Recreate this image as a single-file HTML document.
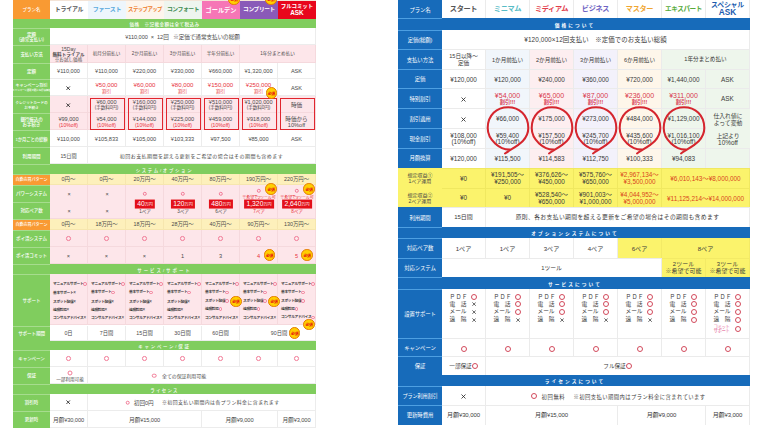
<!DOCTYPE html>
<html><head><meta charset="utf-8"><style>
html,body{margin:0;padding:0;background:#fff;}
body{width:760px;height:428px;overflow:hidden;position:relative;font-family:'Liberation Sans','Noto Sans CJK JP',sans-serif;}
.c{position:absolute;box-sizing:border-box;display:flex;align-items:center;justify-content:center;overflow:visible;white-space:nowrap;}
.a{position:absolute;white-space:nowrap;}
.b{position:absolute;box-sizing:border-box;border-radius:50%;background:#ffcf00;border:1.8px solid #e57a00;display:flex;align-items:center;justify-content:center;}
.b span{color:#e60012;font-size:3.9px;font-weight:bold;white-space:nowrap;letter-spacing:-0.3px;}
.ro{display:inline-block;width:5.5px;height:5.5px;border:0.8px solid #d24a5a;border-radius:50%;vertical-align:middle;margin-left:1px;box-sizing:border-box}
</style></head><body>
<div class="c" style="left:13px;top:0px;width:37px;height:428px;background:#80cd5e;"></div>
<div class="c" style="left:13px;top:0px;width:37px;height:18.6px;background:#f99a33;color:#fff;font-size:4.50px;line-height:4.7px;text-align:center;font-weight:500;letter-spacing:-0.05px;padding-top:2.2px;"><div>プラン名</div></div>
<div class="c" style="left:13px;top:28.3px;width:37px;height:16.900000000000002px;background:#80cd5e;color:#fff;font-size:4.50px;line-height:4.7px;text-align:center;font-weight:500;letter-spacing:-0.05px;padding-top:2.2px;"><div>定額<br>(通常支払い)</div></div>
<div class="c" style="left:13px;top:45.2px;width:37px;height:17.4px;background:#80cd5e;color:#fff;font-size:4.50px;line-height:4.7px;text-align:center;font-weight:500;letter-spacing:-0.05px;padding-top:2.2px;"><div>支払い方法</div></div>
<div class="c" style="left:13px;top:62.6px;width:37px;height:16.800000000000004px;background:#80cd5e;color:#fff;font-size:4.50px;line-height:4.7px;text-align:center;font-weight:500;letter-spacing:-0.05px;padding-top:2.2px;"><div>定額</div></div>
<div class="c" style="left:13px;top:79.4px;width:37px;height:16.599999999999994px;background:#80cd5e;color:#fff;font-size:4.06px;line-height:4.7px;text-align:center;font-weight:500;letter-spacing:-0.05px;padding-top:2.2px;"><div>キャンペーン割引<br><span style="font-size:2.5px;letter-spacing:-0.1px">キャンペーン適用で更にお得な価格</span></div></div>
<div class="c" style="left:13px;top:96px;width:37px;height:17.299999999999997px;background:#80cd5e;color:#fff;font-size:3.61px;line-height:4.7px;text-align:center;font-weight:500;letter-spacing:-0.05px;padding-top:2.2px;"><div>クレジットカードの<br>お手続き</div></div>
<div class="c" style="left:13px;top:113.3px;width:37px;height:17.000000000000014px;background:#80cd5e;color:#fff;font-size:4.50px;line-height:4.7px;text-align:center;font-weight:500;letter-spacing:-0.05px;padding-top:2.2px;"><div>銀行振込の<br>お手続き</div></div>
<div class="c" style="left:13px;top:130.3px;width:37px;height:17.0px;background:#80cd5e;color:#fff;font-size:4.30px;line-height:4.7px;text-align:center;font-weight:500;letter-spacing:-0.05px;padding-top:2.2px;"><div>1か月ごとの総額</div></div>
<div class="c" style="left:13px;top:147.3px;width:37px;height:17.0px;background:#80cd5e;color:#fff;font-size:4.50px;line-height:4.7px;text-align:center;font-weight:500;letter-spacing:-0.05px;padding-top:2.2px;"><div>利用期間</div></div>
<div class="c" style="left:13px;top:174px;width:37px;height:11.300000000000011px;background:#f99a33;color:#fff;font-size:4.06px;line-height:4.7px;text-align:center;font-weight:500;letter-spacing:-0.05px;padding-top:2.2px;"><div>自動売買パターン</div></div>
<div class="c" style="left:13px;top:185.3px;width:37px;height:16.69999999999999px;background:#80cd5e;color:#fff;font-size:4.50px;line-height:4.7px;text-align:center;font-weight:500;letter-spacing:-0.05px;padding-top:2.2px;"><div>パワーシステム</div></div>
<div class="c" style="left:13px;top:202px;width:37px;height:17px;background:#80cd5e;color:#fff;font-size:4.50px;line-height:4.7px;text-align:center;font-weight:500;letter-spacing:-0.05px;padding-top:2.2px;"><div>対応ペア数</div></div>
<div class="c" style="left:13px;top:219px;width:37px;height:11px;background:#f99a33;color:#fff;font-size:4.06px;line-height:4.7px;text-align:center;font-weight:500;letter-spacing:-0.05px;padding-top:2.2px;"><div>自動売買パターン</div></div>
<div class="c" style="left:13px;top:230px;width:37px;height:17px;background:#80cd5e;color:#fff;font-size:4.50px;line-height:4.7px;text-align:center;font-weight:500;letter-spacing:-0.05px;padding-top:2.2px;"><div>ポイ活システム</div></div>
<div class="c" style="left:13px;top:247px;width:37px;height:17px;background:#80cd5e;color:#fff;font-size:4.50px;line-height:4.7px;text-align:center;font-weight:500;letter-spacing:-0.05px;padding-top:2.2px;"><div>ポイ活コミット</div></div>
<div class="c" style="left:13px;top:274.2px;width:37px;height:51.30000000000001px;background:#80cd5e;color:#fff;font-size:4.50px;line-height:4.7px;text-align:center;font-weight:500;letter-spacing:-0.05px;padding-top:2.2px;"><div>サポート</div></div>
<div class="c" style="left:13px;top:325.5px;width:37px;height:15.0px;background:#80cd5e;color:#fff;font-size:4.50px;line-height:4.7px;text-align:center;font-weight:500;letter-spacing:-0.05px;padding-top:2.2px;"><div>サポート期間</div></div>
<div class="c" style="left:13px;top:350.4px;width:37px;height:16.600000000000023px;background:#80cd5e;color:#fff;font-size:4.50px;line-height:4.7px;text-align:center;font-weight:500;letter-spacing:-0.05px;padding-top:2.2px;"><div>キャンペーン</div></div>
<div class="c" style="left:13px;top:367px;width:37px;height:17.100000000000023px;background:#80cd5e;color:#fff;font-size:4.50px;line-height:4.7px;text-align:center;font-weight:500;letter-spacing:-0.05px;padding-top:2.2px;"><div>保証</div></div>
<div class="c" style="left:13px;top:393.9px;width:37px;height:17.100000000000023px;background:#80cd5e;color:#fff;font-size:4.50px;line-height:4.7px;text-align:center;font-weight:500;letter-spacing:-0.05px;padding-top:2.2px;"><div>割引時</div></div>
<div class="c" style="left:13px;top:411px;width:37px;height:17px;background:#80cd5e;color:#fff;font-size:4.50px;line-height:4.7px;text-align:center;font-weight:500;letter-spacing:-0.05px;padding-top:2.2px;"><div>更新時</div></div>
<div class="a" style="left:13px;top:18.6px;width:37px;height:0.8000000000000007px;background:#a6dc8e"></div>
<div class="a" style="left:13px;top:28.3px;width:37px;height:0.8000000000000007px;background:#a6dc8e"></div>
<div class="a" style="left:13px;top:45.2px;width:37px;height:0.7999999999999972px;background:#a6dc8e"></div>
<div class="a" style="left:13px;top:62.6px;width:37px;height:0.7999999999999972px;background:#a6dc8e"></div>
<div class="a" style="left:13px;top:79.4px;width:37px;height:0.7999999999999972px;background:#a6dc8e"></div>
<div class="a" style="left:13px;top:96px;width:37px;height:0.7999999999999972px;background:#a6dc8e"></div>
<div class="a" style="left:13px;top:113.3px;width:37px;height:0.7999999999999972px;background:#a6dc8e"></div>
<div class="a" style="left:13px;top:130.3px;width:37px;height:0.8000000000000114px;background:#a6dc8e"></div>
<div class="a" style="left:13px;top:147.3px;width:37px;height:0.8000000000000114px;background:#a6dc8e"></div>
<div class="a" style="left:13px;top:164.3px;width:37px;height:0.8000000000000114px;background:#a6dc8e"></div>
<div class="a" style="left:13px;top:174px;width:37px;height:0.8000000000000114px;background:#a6dc8e"></div>
<div class="a" style="left:13px;top:185.3px;width:37px;height:0.8000000000000114px;background:#a6dc8e"></div>
<div class="a" style="left:13px;top:202px;width:37px;height:0.8000000000000114px;background:#a6dc8e"></div>
<div class="a" style="left:13px;top:219px;width:37px;height:0.8000000000000114px;background:#a6dc8e"></div>
<div class="a" style="left:13px;top:230px;width:37px;height:0.8000000000000114px;background:#a6dc8e"></div>
<div class="a" style="left:13px;top:247px;width:37px;height:0.8000000000000114px;background:#a6dc8e"></div>
<div class="a" style="left:13px;top:264px;width:37px;height:0.8000000000000114px;background:#a6dc8e"></div>
<div class="a" style="left:13px;top:274.2px;width:37px;height:0.8000000000000114px;background:#a6dc8e"></div>
<div class="a" style="left:13px;top:325.5px;width:37px;height:0.8000000000000114px;background:#a6dc8e"></div>
<div class="a" style="left:13px;top:340.5px;width:37px;height:0.8000000000000114px;background:#a6dc8e"></div>
<div class="a" style="left:13px;top:350.4px;width:37px;height:0.8000000000000114px;background:#a6dc8e"></div>
<div class="a" style="left:13px;top:367px;width:37px;height:0.8000000000000114px;background:#a6dc8e"></div>
<div class="a" style="left:13px;top:384.1px;width:37px;height:0.8000000000000114px;background:#a6dc8e"></div>
<div class="a" style="left:13px;top:393.9px;width:37px;height:0.8000000000000114px;background:#a6dc8e"></div>
<div class="a" style="left:13px;top:411px;width:37px;height:0.8000000000000114px;background:#a6dc8e"></div>
<div class="c" style="left:50px;top:18.6px;width:266px;height:1.0px;background:#80cd5e;"></div>
<div class="c" style="left:13px;top:19.400000000000002px;width:303px;height:8.899999999999999px;background:#80cd5e;color:#fff;font-size:4.4px;font-weight:500;padding-top:0.4px;"><div><span style="letter-spacing:0.4px;font-size:4.6px">価格　※記載金額は全て税込み</span></div></div>
<div class="c" style="left:50px;top:164.3px;width:266px;height:1.0px;background:#80cd5e;"></div>
<div class="c" style="left:13px;top:165.10000000000002px;width:303px;height:8.899999999999977px;background:#80cd5e;color:#fff;font-size:4.4px;font-weight:500;padding-top:0.4px;"><div><span style="letter-spacing:1.7px">システム/オプション</span></div></div>
<div class="c" style="left:50px;top:264px;width:266px;height:1px;background:#80cd5e;"></div>
<div class="c" style="left:13px;top:264.8px;width:303px;height:9.399999999999977px;background:#80cd5e;color:#fff;font-size:4.4px;font-weight:500;padding-top:0.4px;"><div><span style="letter-spacing:2px">サービス/サポート</span></div></div>
<div class="c" style="left:50px;top:340.5px;width:266px;height:1.0px;background:#80cd5e;"></div>
<div class="c" style="left:13px;top:341.3px;width:303px;height:9.099999999999966px;background:#80cd5e;color:#fff;font-size:4.4px;font-weight:500;padding-top:0.4px;"><div><span style="letter-spacing:1.8px">キャンペーン/保証</span></div></div>
<div class="c" style="left:50px;top:384.1px;width:266px;height:1.0px;background:#80cd5e;"></div>
<div class="c" style="left:13px;top:384.90000000000003px;width:303px;height:8.999999999999943px;background:#80cd5e;color:#fff;font-size:4.4px;font-weight:500;padding-top:0.4px;"><div><span style="letter-spacing:1.3px">ライセンス</span></div></div>
<div class="a" style="left:50px;top:0px;width:266px;height:1px;background:#f3e3d6"></div>
<div class="c" style="left:50px;top:1px;width:38px;height:17.6px;background:#ffffff;color:#595959;font-weight:bold;font-size:6px;line-height:7px;letter-spacing:-0.25px;text-align:center;"><div>トライアル</div></div>
<div class="c" style="left:88px;top:1px;width:38px;height:17.6px;background:#eef6fc;color:#5aaade;font-weight:bold;font-size:6px;line-height:7px;letter-spacing:-0.25px;text-align:center;"><div>ファースト</div></div>
<div class="c" style="left:126px;top:1px;width:38px;height:17.6px;background:#fdf5ec;color:#ee7d2c;font-weight:bold;font-size:5.4px;line-height:7px;letter-spacing:-0.55px;text-align:center;"><div>ステップアップ</div></div>
<div class="c" style="left:164px;top:1px;width:38px;height:17.6px;background:#eef5ef;color:#3f8c52;font-weight:bold;font-size:5.8px;line-height:7px;letter-spacing:-0.4px;text-align:center;"><div>コンフォート</div></div>
<div class="c" style="left:202px;top:1px;width:38px;height:17.6px;background:#f676b6;color:#fff;font-weight:bold;font-size:6.2px;line-height:7px;letter-spacing:0px;text-align:center;"><div>ゴールデン</div></div>
<div class="c" style="left:240px;top:1px;width:38px;height:17.6px;background:#8a5ab8;color:#fff;font-weight:bold;font-size:5.7px;line-height:7px;letter-spacing:-0.35px;text-align:center;"><div>コンプリート</div></div>
<div class="c" style="left:278px;top:1px;width:38px;height:17.6px;background:#e8061c;color:#fff;font-weight:bold;font-size:5.5px;line-height:6.6px;letter-spacing:-0.1px;text-align:center;"><div>フルコミット<br><span style="font-size:6.4px;letter-spacing:0">ASK</span></div></div>
<div class="c" style="left:50px;top:28.3px;width:266px;height:16.900000000000002px;background:#ffffff;color:#4a4a4a;font-size:5.6px;line-height:6px;text-align:center;border-right:1px solid #ececec;border-bottom:1px solid #ececec;padding-top:1.2px;font-size:5.6px;letter-spacing:-0.05px"><div>¥110,000 &nbsp;×&nbsp; 12回 &nbsp; ※定価で通常支払いの総額</div></div>
<div class="c" style="left:50px;top:45.2px;width:38px;height:17.4px;background:#fde6ea;color:#4a4a4a;font-size:5.6px;line-height:6px;text-align:center;border-right:1px solid #f5d9dd;border-bottom:1px solid #f5d9dd;padding-top:1.2px;font-size:4.6px"><div><div style="line-height:5px;font-size:4.6px;padding-top:1px"><span style="font-size:5px">15Day</span><br><b>無料トライアル</b><br>※お試し価格</div></div></div>
<div class="c" style="left:88px;top:45.2px;width:38px;height:17.4px;background:#fde6ea;color:#4a4a4a;font-size:5.6px;line-height:6px;text-align:center;border-right:1px solid #f5d9dd;border-bottom:1px solid #f5d9dd;padding-top:1.2px;font-size:4.6px"><div>初月分前払い</div></div>
<div class="c" style="left:126px;top:45.2px;width:38px;height:17.4px;background:#fde6ea;color:#4a4a4a;font-size:5.6px;line-height:6px;text-align:center;border-right:1px solid #f5d9dd;border-bottom:1px solid #f5d9dd;padding-top:1.2px;font-size:4.6px"><div>2か月前払い</div></div>
<div class="c" style="left:164px;top:45.2px;width:38px;height:17.4px;background:#fde6ea;color:#4a4a4a;font-size:5.6px;line-height:6px;text-align:center;border-right:1px solid #f5d9dd;border-bottom:1px solid #f5d9dd;padding-top:1.2px;font-size:4.6px"><div>3か月前払い</div></div>
<div class="c" style="left:202px;top:45.2px;width:38px;height:17.4px;background:#fde6ea;color:#4a4a4a;font-size:5.6px;line-height:6px;text-align:center;border-right:1px solid #f5d9dd;border-bottom:1px solid #f5d9dd;padding-top:1.2px;font-size:4.6px"><div>半年分前払い</div></div>
<div class="c" style="left:240px;top:45.2px;width:76px;height:17.4px;background:#fde6ea;color:#4a4a4a;font-size:5.6px;line-height:6px;text-align:center;border-right:1px solid #f5d9dd;border-bottom:1px solid #f5d9dd;padding-top:1.2px;font-size:4.6px"><div>1年分まとめ払い</div></div>
<div class="c" style="left:50px;top:62.6px;width:38px;height:16.800000000000004px;background:#ffffff;color:#4a4a4a;font-size:5.6px;line-height:6px;text-align:center;border-right:1px solid #ececec;border-bottom:1px solid #ececec;padding-top:1.2px;"><div>¥110,000</div></div>
<div class="c" style="left:88px;top:62.6px;width:38px;height:16.800000000000004px;background:#ffffff;color:#4a4a4a;font-size:5.6px;line-height:6px;text-align:center;border-right:1px solid #ececec;border-bottom:1px solid #ececec;padding-top:1.2px;"><div>¥110,000</div></div>
<div class="c" style="left:126px;top:62.6px;width:38px;height:16.800000000000004px;background:#ffffff;color:#4a4a4a;font-size:5.6px;line-height:6px;text-align:center;border-right:1px solid #ececec;border-bottom:1px solid #ececec;padding-top:1.2px;"><div>¥220,000</div></div>
<div class="c" style="left:164px;top:62.6px;width:38px;height:16.800000000000004px;background:#ffffff;color:#4a4a4a;font-size:5.6px;line-height:6px;text-align:center;border-right:1px solid #ececec;border-bottom:1px solid #ececec;padding-top:1.2px;"><div>¥330,000</div></div>
<div class="c" style="left:202px;top:62.6px;width:38px;height:16.800000000000004px;background:#ffffff;color:#4a4a4a;font-size:5.6px;line-height:6px;text-align:center;border-right:1px solid #ececec;border-bottom:1px solid #ececec;padding-top:1.2px;"><div>¥660,000</div></div>
<div class="c" style="left:240px;top:62.6px;width:38px;height:16.800000000000004px;background:#ffffff;color:#4a4a4a;font-size:5.6px;line-height:6px;text-align:center;border-right:1px solid #ececec;border-bottom:1px solid #ececec;padding-top:1.2px;"><div>¥1,320,000</div></div>
<div class="c" style="left:278px;top:62.6px;width:38px;height:16.800000000000004px;background:#ffffff;color:#4a4a4a;font-size:5.6px;line-height:6px;text-align:center;border-right:1px solid #ececec;border-bottom:1px solid #ececec;padding-top:1.2px;"><div>ASK</div></div>
<div class="c" style="left:50px;top:79.4px;width:38px;height:16.599999999999994px;background:#ffffff;color:#4a4a4a;font-size:5.6px;line-height:6px;text-align:center;border-right:1px solid #ececec;border-bottom:1px solid #ececec;padding-top:1.2px;line-height:5.3px;padding-top:2.4px"><div><svg width="4.4" height="4.4" viewBox="0 0 10 10" style="vertical-align:middle;display:inline-block"><path d="M1 1L9 9M9 1L1 9" stroke="#222" stroke-width="1.9318181818181817" fill="none"/></svg></div></div>
<div class="c" style="left:88px;top:79.4px;width:38px;height:16.599999999999994px;background:#ffffff;color:#4a4a4a;font-size:5.6px;line-height:6px;text-align:center;border-right:1px solid #ececec;border-bottom:1px solid #ececec;padding-top:1.2px;line-height:5.3px;padding-top:2.4px"><div><span style="color:#e8333d;font-size:6.1px">¥50,000<br><span style="font-size:4.6px">割引</span></span></div></div>
<div class="c" style="left:126px;top:79.4px;width:38px;height:16.599999999999994px;background:#ffffff;color:#4a4a4a;font-size:5.6px;line-height:6px;text-align:center;border-right:1px solid #ececec;border-bottom:1px solid #ececec;padding-top:1.2px;line-height:5.3px;padding-top:2.4px"><div><span style="color:#e8333d;font-size:6.1px">¥60,000<br><span style="font-size:4.6px">割引</span></span></div></div>
<div class="c" style="left:164px;top:79.4px;width:38px;height:16.599999999999994px;background:#ffffff;color:#4a4a4a;font-size:5.6px;line-height:6px;text-align:center;border-right:1px solid #ececec;border-bottom:1px solid #ececec;padding-top:1.2px;line-height:5.3px;padding-top:2.4px"><div><span style="color:#e8333d;font-size:6.1px">¥80,000<br><span style="font-size:4.6px">割引</span></span></div></div>
<div class="c" style="left:202px;top:79.4px;width:38px;height:16.599999999999994px;background:#ffffff;color:#4a4a4a;font-size:5.6px;line-height:6px;text-align:center;border-right:1px solid #ececec;border-bottom:1px solid #ececec;padding-top:1.2px;line-height:5.3px;padding-top:2.4px"><div><span style="color:#e8333d;font-size:6.1px">¥150,000<br><span style="font-size:4.6px">割引</span></span></div></div>
<div class="c" style="left:240px;top:79.4px;width:38px;height:16.599999999999994px;background:#ffffff;color:#4a4a4a;font-size:5.6px;line-height:6px;text-align:center;border-right:1px solid #ececec;border-bottom:1px solid #ececec;padding-top:1.2px;line-height:5.3px;padding-top:2.4px"><div><span style="color:#e8333d;font-size:6.1px">¥250,000<br><span style="font-size:4.6px">割引</span></span></div></div>
<div class="c" style="left:278px;top:79.4px;width:38px;height:16.599999999999994px;background:#ffffff;color:#4a4a4a;font-size:5.6px;line-height:6px;text-align:center;border-right:1px solid #ececec;border-bottom:1px solid #ececec;padding-top:1.2px;line-height:5.3px;padding-top:2.4px"><div>ASK</div></div>
<div class="c" style="left:50px;top:96px;width:38px;height:17.299999999999997px;background:#fde6ea;color:#4a4a4a;font-size:5.6px;line-height:6px;text-align:center;border-right:1px solid #f5d9dd;border-bottom:1px solid #f5d9dd;padding-top:1.2px;line-height:5.5px;padding-top:2.4px"><div><svg width="4.4" height="4.4" viewBox="0 0 10 10" style="vertical-align:middle;display:inline-block"><path d="M1 1L9 9M9 1L1 9" stroke="#222" stroke-width="1.9318181818181817" fill="none"/></svg></div></div>
<div class="c" style="left:88px;top:96px;width:38px;height:17.299999999999997px;background:#fde6ea;color:#4a4a4a;font-size:5.6px;line-height:6px;text-align:center;border-right:1px solid #f5d9dd;border-bottom:1px solid #f5d9dd;padding-top:1.2px;line-height:5.5px;padding-top:2.4px"><div>¥60,000<br><span style="font-size:4.6px;letter-spacing:-0.1px">(手数料0円)</span></div></div>
<div class="c" style="left:126px;top:96px;width:38px;height:17.299999999999997px;background:#fde6ea;color:#4a4a4a;font-size:5.6px;line-height:6px;text-align:center;border-right:1px solid #f5d9dd;border-bottom:1px solid #f5d9dd;padding-top:1.2px;line-height:5.5px;padding-top:2.4px"><div>¥160,000<br><span style="font-size:4.6px;letter-spacing:-0.1px">(手数料0円)</span></div></div>
<div class="c" style="left:164px;top:96px;width:38px;height:17.299999999999997px;background:#fde6ea;color:#4a4a4a;font-size:5.6px;line-height:6px;text-align:center;border-right:1px solid #f5d9dd;border-bottom:1px solid #f5d9dd;padding-top:1.2px;line-height:5.5px;padding-top:2.4px"><div>¥250,000<br><span style="font-size:4.6px;letter-spacing:-0.1px">(手数料0円)</span></div></div>
<div class="c" style="left:202px;top:96px;width:38px;height:17.299999999999997px;background:#fde6ea;color:#4a4a4a;font-size:5.6px;line-height:6px;text-align:center;border-right:1px solid #f5d9dd;border-bottom:1px solid #f5d9dd;padding-top:1.2px;line-height:5.5px;padding-top:2.4px"><div>¥510,000<br><span style="font-size:4.6px;letter-spacing:-0.1px">(手数料0円)</span></div></div>
<div class="c" style="left:240px;top:96px;width:38px;height:17.299999999999997px;background:#fde6ea;color:#4a4a4a;font-size:5.6px;line-height:6px;text-align:center;border-right:1px solid #f5d9dd;border-bottom:1px solid #f5d9dd;padding-top:1.2px;line-height:5.5px;padding-top:2.4px"><div>¥1,020,000<br><span style="font-size:4.6px;letter-spacing:-0.1px">(手数料0円)</span></div></div>
<div class="c" style="left:278px;top:96px;width:38px;height:17.299999999999997px;background:#fde6ea;color:#4a4a4a;font-size:5.6px;line-height:6px;text-align:center;border-right:1px solid #f5d9dd;border-bottom:1px solid #f5d9dd;padding-top:1.2px;line-height:5.5px;padding-top:2.4px"><div>時価</div></div>
<div class="c" style="left:50px;top:113.3px;width:38px;height:17.000000000000014px;background:#fde6ea;color:#4a4a4a;font-size:5.6px;line-height:6px;text-align:center;border-right:1px solid #f5d9dd;border-bottom:1px solid #f5d9dd;padding-top:1.2px;line-height:5.6px;padding-top:2.6px"><div>¥99,000<br><span style="font-size:5.1px;color:#e8333d">(10%off)</span></div></div>
<div class="c" style="left:88px;top:113.3px;width:38px;height:17.000000000000014px;background:#fde6ea;color:#4a4a4a;font-size:5.6px;line-height:6px;text-align:center;border-right:1px solid #f5d9dd;border-bottom:1px solid #f5d9dd;padding-top:1.2px;line-height:5.6px;padding-top:2.6px"><div>¥54,000<br><span style="font-size:5.1px;color:#e8333d">(10%off)</span></div></div>
<div class="c" style="left:126px;top:113.3px;width:38px;height:17.000000000000014px;background:#fde6ea;color:#4a4a4a;font-size:5.6px;line-height:6px;text-align:center;border-right:1px solid #f5d9dd;border-bottom:1px solid #f5d9dd;padding-top:1.2px;line-height:5.6px;padding-top:2.6px"><div>¥144,000<br><span style="font-size:5.1px;color:#e8333d">(10%off)</span></div></div>
<div class="c" style="left:164px;top:113.3px;width:38px;height:17.000000000000014px;background:#fde6ea;color:#4a4a4a;font-size:5.6px;line-height:6px;text-align:center;border-right:1px solid #f5d9dd;border-bottom:1px solid #f5d9dd;padding-top:1.2px;line-height:5.6px;padding-top:2.6px"><div>¥225,000<br><span style="font-size:5.1px;color:#e8333d">(10%off)</span></div></div>
<div class="c" style="left:202px;top:113.3px;width:38px;height:17.000000000000014px;background:#fde6ea;color:#4a4a4a;font-size:5.6px;line-height:6px;text-align:center;border-right:1px solid #f5d9dd;border-bottom:1px solid #f5d9dd;padding-top:1.2px;line-height:5.6px;padding-top:2.6px"><div>¥459,000<br><span style="font-size:5.1px;color:#e8333d">(10%off)</span></div></div>
<div class="c" style="left:240px;top:113.3px;width:38px;height:17.000000000000014px;background:#fde6ea;color:#4a4a4a;font-size:5.6px;line-height:6px;text-align:center;border-right:1px solid #f5d9dd;border-bottom:1px solid #f5d9dd;padding-top:1.2px;line-height:5.6px;padding-top:2.6px"><div>¥918,000<br><span style="font-size:5.1px;color:#e8333d">(10%off)</span></div></div>
<div class="c" style="left:278px;top:113.3px;width:38px;height:17.000000000000014px;background:#fde6ea;color:#4a4a4a;font-size:5.6px;line-height:6px;text-align:center;border-right:1px solid #f5d9dd;border-bottom:1px solid #f5d9dd;padding-top:1.2px;line-height:5.6px;padding-top:2.6px"><div>時価から<br>10%off</div></div>
<div class="c" style="left:50px;top:130.3px;width:38px;height:17.0px;background:#ffffff;color:#4a4a4a;font-size:5.6px;line-height:6px;text-align:center;border-right:1px solid #ececec;border-bottom:1px solid #ececec;padding-top:1.2px;"><div>¥110,000</div></div>
<div class="c" style="left:88px;top:130.3px;width:38px;height:17.0px;background:#ffffff;color:#4a4a4a;font-size:5.6px;line-height:6px;text-align:center;border-right:1px solid #ececec;border-bottom:1px solid #ececec;padding-top:1.2px;"><div>¥105,833</div></div>
<div class="c" style="left:126px;top:130.3px;width:38px;height:17.0px;background:#ffffff;color:#4a4a4a;font-size:5.6px;line-height:6px;text-align:center;border-right:1px solid #ececec;border-bottom:1px solid #ececec;padding-top:1.2px;"><div>¥105,000</div></div>
<div class="c" style="left:164px;top:130.3px;width:38px;height:17.0px;background:#ffffff;color:#4a4a4a;font-size:5.6px;line-height:6px;text-align:center;border-right:1px solid #ececec;border-bottom:1px solid #ececec;padding-top:1.2px;"><div>¥103,333</div></div>
<div class="c" style="left:202px;top:130.3px;width:38px;height:17.0px;background:#ffffff;color:#4a4a4a;font-size:5.6px;line-height:6px;text-align:center;border-right:1px solid #ececec;border-bottom:1px solid #ececec;padding-top:1.2px;"><div>¥97,500</div></div>
<div class="c" style="left:240px;top:130.3px;width:38px;height:17.0px;background:#ffffff;color:#4a4a4a;font-size:5.6px;line-height:6px;text-align:center;border-right:1px solid #ececec;border-bottom:1px solid #ececec;padding-top:1.2px;"><div>¥85,000</div></div>
<div class="c" style="left:278px;top:130.3px;width:38px;height:17.0px;background:#ffffff;color:#4a4a4a;font-size:5.6px;line-height:6px;text-align:center;border-right:1px solid #ececec;border-bottom:1px solid #ececec;padding-top:1.2px;"><div>ASK</div></div>
<div class="c" style="left:50px;top:147.3px;width:38px;height:17.0px;background:#ffffff;color:#4a4a4a;font-size:5.6px;line-height:6px;text-align:center;border-right:1px solid #ececec;border-bottom:1px solid #ececec;padding-top:1.2px;font-size:5.2px"><div>15日間</div></div>
<div class="c" style="left:88px;top:147.3px;width:228px;height:17.0px;background:#ffffff;color:#4a4a4a;font-size:5.6px;line-height:6px;text-align:center;border-right:1px solid #ececec;border-bottom:1px solid #ececec;padding-top:1.2px;letter-spacing:0.45px;font-size:5px"><div>初回お支払期間を超える更新をご希望の場合はその期間も含めます</div></div>
<div class="c" style="left:50px;top:174px;width:38px;height:11.300000000000011px;background:#fdf0bb;color:#4a4a4a;font-size:5.6px;line-height:6px;text-align:center;border-right:1px solid #f6e6ae;border-bottom:1px solid #f6e6ae;padding-top:1.2px;font-size:5.4px;padding-top:0.6px"><div>0円〜</div></div>
<div class="c" style="left:88px;top:174px;width:38px;height:11.300000000000011px;background:#fdf0bb;color:#4a4a4a;font-size:5.6px;line-height:6px;text-align:center;border-right:1px solid #f6e6ae;border-bottom:1px solid #f6e6ae;padding-top:1.2px;font-size:5.4px;padding-top:0.6px"><div>0円〜</div></div>
<div class="c" style="left:126px;top:174px;width:38px;height:11.300000000000011px;background:#fdf0bb;color:#4a4a4a;font-size:5.6px;line-height:6px;text-align:center;border-right:1px solid #f6e6ae;border-bottom:1px solid #f6e6ae;padding-top:1.2px;font-size:5.4px;padding-top:0.6px"><div>20万円〜</div></div>
<div class="c" style="left:164px;top:174px;width:38px;height:11.300000000000011px;background:#fdf0bb;color:#4a4a4a;font-size:5.6px;line-height:6px;text-align:center;border-right:1px solid #f6e6ae;border-bottom:1px solid #f6e6ae;padding-top:1.2px;font-size:5.4px;padding-top:0.6px"><div>40万円〜</div></div>
<div class="c" style="left:202px;top:174px;width:38px;height:11.300000000000011px;background:#fdf0bb;color:#4a4a4a;font-size:5.6px;line-height:6px;text-align:center;border-right:1px solid #f6e6ae;border-bottom:1px solid #f6e6ae;padding-top:1.2px;font-size:5.4px;padding-top:0.6px"><div>80万円〜</div></div>
<div class="c" style="left:240px;top:174px;width:38px;height:11.300000000000011px;background:#fdf0bb;color:#4a4a4a;font-size:5.6px;line-height:6px;text-align:center;border-right:1px solid #f6e6ae;border-bottom:1px solid #f6e6ae;padding-top:1.2px;font-size:5.4px;padding-top:0.6px"><div>190万円〜</div></div>
<div class="c" style="left:278px;top:174px;width:38px;height:11.300000000000011px;background:#fdf0bb;color:#4a4a4a;font-size:5.6px;line-height:6px;text-align:center;border-right:1px solid #f6e6ae;border-bottom:1px solid #f6e6ae;padding-top:1.2px;font-size:5.4px;padding-top:0.6px"><div>220万円〜</div></div>
<div class="c" style="left:50px;top:185.3px;width:38px;height:16.69999999999999px;background:#fde6ea;color:#4a4a4a;font-size:5.6px;line-height:6px;text-align:center;border-right:1px solid #f5d9dd;border-bottom:1px solid #f5d9dd;padding-top:1.2px;border-bottom:none"></div>
<div class="c" style="left:50px;top:202px;width:38px;height:17px;background:#fde6ea;color:#4a4a4a;font-size:5.6px;line-height:6px;text-align:center;border-right:1px solid #f5d9dd;border-bottom:1px solid #f5d9dd;padding-top:1.2px;"></div>
<div class="c" style="left:88px;top:185.3px;width:38px;height:16.69999999999999px;background:#fde6ea;color:#4a4a4a;font-size:5.6px;line-height:6px;text-align:center;border-right:1px solid #f5d9dd;border-bottom:1px solid #f5d9dd;padding-top:1.2px;border-bottom:none"></div>
<div class="c" style="left:88px;top:202px;width:38px;height:17px;background:#fde6ea;color:#4a4a4a;font-size:5.6px;line-height:6px;text-align:center;border-right:1px solid #f5d9dd;border-bottom:1px solid #f5d9dd;padding-top:1.2px;"></div>
<div class="c" style="left:126px;top:185.3px;width:38px;height:16.69999999999999px;background:#fde6ea;color:#4a4a4a;font-size:5.6px;line-height:6px;text-align:center;border-right:1px solid #f5d9dd;border-bottom:1px solid #f5d9dd;padding-top:1.2px;border-bottom:none"></div>
<div class="c" style="left:126px;top:202px;width:38px;height:17px;background:#fde6ea;color:#4a4a4a;font-size:5.6px;line-height:6px;text-align:center;border-right:1px solid #f5d9dd;border-bottom:1px solid #f5d9dd;padding-top:1.2px;"></div>
<div class="c" style="left:164px;top:185.3px;width:38px;height:16.69999999999999px;background:#fde6ea;color:#4a4a4a;font-size:5.6px;line-height:6px;text-align:center;border-right:1px solid #f5d9dd;border-bottom:1px solid #f5d9dd;padding-top:1.2px;border-bottom:none"></div>
<div class="c" style="left:164px;top:202px;width:38px;height:17px;background:#fde6ea;color:#4a4a4a;font-size:5.6px;line-height:6px;text-align:center;border-right:1px solid #f5d9dd;border-bottom:1px solid #f5d9dd;padding-top:1.2px;"></div>
<div class="c" style="left:202px;top:185.3px;width:38px;height:16.69999999999999px;background:#fde6ea;color:#4a4a4a;font-size:5.6px;line-height:6px;text-align:center;border-right:1px solid #f5d9dd;border-bottom:1px solid #f5d9dd;padding-top:1.2px;border-bottom:none"></div>
<div class="c" style="left:202px;top:202px;width:38px;height:17px;background:#fde6ea;color:#4a4a4a;font-size:5.6px;line-height:6px;text-align:center;border-right:1px solid #f5d9dd;border-bottom:1px solid #f5d9dd;padding-top:1.2px;"></div>
<div class="c" style="left:240px;top:185.3px;width:38px;height:16.69999999999999px;background:#fde6ea;color:#4a4a4a;font-size:5.6px;line-height:6px;text-align:center;border-right:1px solid #f5d9dd;border-bottom:1px solid #f5d9dd;padding-top:1.2px;border-bottom:none"></div>
<div class="c" style="left:240px;top:202px;width:38px;height:17px;background:#fde6ea;color:#4a4a4a;font-size:5.6px;line-height:6px;text-align:center;border-right:1px solid #f5d9dd;border-bottom:1px solid #f5d9dd;padding-top:1.2px;"></div>
<div class="c" style="left:278px;top:185.3px;width:38px;height:16.69999999999999px;background:#fde6ea;color:#4a4a4a;font-size:5.6px;line-height:6px;text-align:center;border-right:1px solid #f5d9dd;border-bottom:1px solid #f5d9dd;padding-top:1.2px;border-bottom:none"></div>
<div class="c" style="left:278px;top:202px;width:38px;height:17px;background:#fde6ea;color:#4a4a4a;font-size:5.6px;line-height:6px;text-align:center;border-right:1px solid #f5d9dd;border-bottom:1px solid #f5d9dd;padding-top:1.2px;"></div>
<div class="a" style="left:69.0px;top:193.5px;transform:translate(-50%,-50%);text-align:center;font-size:5.5px;color:#4a4a4a">×</div>
<div class="a" style="left:69.0px;top:210.5px;transform:translate(-50%,-50%);text-align:center;font-size:5.5px;color:#4a4a4a">×</div>
<div class="a" style="left:107.0px;top:193.5px;transform:translate(-50%,-50%);text-align:center;font-size:5.5px;color:#4a4a4a">×</div>
<div class="a" style="left:107.0px;top:210.5px;transform:translate(-50%,-50%);text-align:center;font-size:5.5px;color:#4a4a4a">×</div>
<div class="a" style="left:145.0px;top:193.8px;transform:translate(-50%,-50%);text-align:center;line-height:0"><span style="display:inline-block;width:4.4px;height:4.4px;border:0.9px solid #f27a96;border-radius:50%;box-sizing:border-box;vertical-align:middle"></span></div>
<div class="a" style="left:145.0px;top:203.6px;transform:translate(-50%,-50%);text-align:center;background:#e3101a;color:#fff;font-size:6.8px;line-height:7.9px;padding:0 2.3px;letter-spacing:0px">40<span style="font-size:4.1px">万円</span></div>
<div class="a" style="left:145.0px;top:210.6px;transform:translate(-50%,-50%);text-align:center;font-size:4.6px;color:#4a4a4a">1ペア</div>
<div class="a" style="left:183.0px;top:193.8px;transform:translate(-50%,-50%);text-align:center;line-height:0"><span style="display:inline-block;width:4.4px;height:4.4px;border:0.9px solid #f27a96;border-radius:50%;box-sizing:border-box;vertical-align:middle"></span></div>
<div class="a" style="left:183.0px;top:203.6px;transform:translate(-50%,-50%);text-align:center;background:#e3101a;color:#fff;font-size:6.8px;line-height:7.9px;padding:0 2.3px;letter-spacing:0px">120<span style="font-size:4.1px">万円</span></div>
<div class="a" style="left:183.0px;top:210.6px;transform:translate(-50%,-50%);text-align:center;font-size:4.6px;color:#4a4a4a">3ペア</div>
<div class="a" style="left:221.0px;top:193.8px;transform:translate(-50%,-50%);text-align:center;line-height:0"><span style="display:inline-block;width:4.4px;height:4.4px;border:0.9px solid #f27a96;border-radius:50%;box-sizing:border-box;vertical-align:middle"></span></div>
<div class="a" style="left:221.0px;top:203.6px;transform:translate(-50%,-50%);text-align:center;background:#e3101a;color:#fff;font-size:6.8px;line-height:7.9px;padding:0 2.3px;letter-spacing:0px">480<span style="font-size:4.1px">万円</span></div>
<div class="a" style="left:221.0px;top:210.6px;transform:translate(-50%,-50%);text-align:center;font-size:4.6px;color:#4a4a4a">6ペア</div>
<div class="a" style="left:259.0px;top:190.7px;transform:translate(-50%,-50%);text-align:center;line-height:0"><span style="display:inline-block;width:4.4px;height:4.4px;border:0.9px solid #f27a96;border-radius:50%;box-sizing:border-box;vertical-align:middle"></span></div>
<div class="a" style="left:259.0px;top:196.9px;transform:translate(-50%,-50%);text-align:center;font-size:4px;color:#e8333d;letter-spacing:-0.1px">※希望で2ツール可</div>
<div class="a" style="left:259.0px;top:203.6px;transform:translate(-50%,-50%);text-align:center;background:#e3101a;color:#fff;font-size:6.8px;line-height:7.9px;padding:0 2.3px;letter-spacing:0px">1,320<span style="font-size:4.1px">万円</span></div>
<div class="a" style="left:259.0px;top:210.6px;transform:translate(-50%,-50%);text-align:center;font-size:4.6px;color:#e8333d">7ペア</div>
<div class="a" style="left:297.0px;top:190.7px;transform:translate(-50%,-50%);text-align:center;line-height:0"><span style="display:inline-block;width:4.4px;height:4.4px;border:0.9px solid #f27a96;border-radius:50%;box-sizing:border-box;vertical-align:middle"></span></div>
<div class="a" style="left:297.0px;top:196.9px;transform:translate(-50%,-50%);text-align:center;font-size:4px;color:#e8333d;letter-spacing:-0.1px">※希望で3ツール可</div>
<div class="a" style="left:297.0px;top:203.6px;transform:translate(-50%,-50%);text-align:center;background:#e3101a;color:#fff;font-size:6.8px;line-height:7.9px;padding:0 2.3px;letter-spacing:0px">2,640<span style="font-size:4.1px">万円</span></div>
<div class="a" style="left:297.0px;top:210.6px;transform:translate(-50%,-50%);text-align:center;font-size:4.6px;color:#e8333d">8ペア</div>
<div class="c" style="left:50px;top:219px;width:38px;height:11px;background:#fdf0bb;color:#4a4a4a;font-size:5.6px;line-height:6px;text-align:center;border-right:1px solid #f6e6ae;border-bottom:1px solid #f6e6ae;padding-top:1.2px;font-size:5.4px;padding-top:0.6px"><div>0円〜</div></div>
<div class="c" style="left:88px;top:219px;width:38px;height:11px;background:#fdf0bb;color:#4a4a4a;font-size:5.6px;line-height:6px;text-align:center;border-right:1px solid #f6e6ae;border-bottom:1px solid #f6e6ae;padding-top:1.2px;font-size:5.4px;padding-top:0.6px"><div>18万円〜</div></div>
<div class="c" style="left:126px;top:219px;width:38px;height:11px;background:#fdf0bb;color:#4a4a4a;font-size:5.6px;line-height:6px;text-align:center;border-right:1px solid #f6e6ae;border-bottom:1px solid #f6e6ae;padding-top:1.2px;font-size:5.4px;padding-top:0.6px"><div>18万円〜</div></div>
<div class="c" style="left:164px;top:219px;width:38px;height:11px;background:#fdf0bb;color:#4a4a4a;font-size:5.6px;line-height:6px;text-align:center;border-right:1px solid #f6e6ae;border-bottom:1px solid #f6e6ae;padding-top:1.2px;font-size:5.4px;padding-top:0.6px"><div>28万円〜</div></div>
<div class="c" style="left:202px;top:219px;width:38px;height:11px;background:#fdf0bb;color:#4a4a4a;font-size:5.6px;line-height:6px;text-align:center;border-right:1px solid #f6e6ae;border-bottom:1px solid #f6e6ae;padding-top:1.2px;font-size:5.4px;padding-top:0.6px"><div>40万円〜</div></div>
<div class="c" style="left:240px;top:219px;width:38px;height:11px;background:#fdf0bb;color:#4a4a4a;font-size:5.6px;line-height:6px;text-align:center;border-right:1px solid #f6e6ae;border-bottom:1px solid #f6e6ae;padding-top:1.2px;font-size:5.4px;padding-top:0.6px"><div>90万円〜</div></div>
<div class="c" style="left:278px;top:219px;width:38px;height:11px;background:#fdf0bb;color:#4a4a4a;font-size:5.6px;line-height:6px;text-align:center;border-right:1px solid #f6e6ae;border-bottom:1px solid #f6e6ae;padding-top:1.2px;font-size:5.4px;padding-top:0.6px"><div>130万円〜</div></div>
<div class="c" style="left:50px;top:230px;width:38px;height:17px;background:#fde6ea;color:#4a4a4a;font-size:5.6px;line-height:6px;text-align:center;border-right:1px solid #f5d9dd;border-bottom:1px solid #f5d9dd;padding-top:1.2px;line-height:0"><div><span style="display:inline-block;width:4.6px;height:4.6px;border:1px solid #f27a96;border-radius:50%;box-sizing:border-box;vertical-align:middle"></span></div></div>
<div class="c" style="left:88px;top:230px;width:38px;height:17px;background:#fde6ea;color:#4a4a4a;font-size:5.6px;line-height:6px;text-align:center;border-right:1px solid #f5d9dd;border-bottom:1px solid #f5d9dd;padding-top:1.2px;line-height:0"><div><span style="display:inline-block;width:4.6px;height:4.6px;border:1px solid #f27a96;border-radius:50%;box-sizing:border-box;vertical-align:middle"></span></div></div>
<div class="c" style="left:126px;top:230px;width:38px;height:17px;background:#fde6ea;color:#4a4a4a;font-size:5.6px;line-height:6px;text-align:center;border-right:1px solid #f5d9dd;border-bottom:1px solid #f5d9dd;padding-top:1.2px;line-height:0"><div><span style="display:inline-block;width:4.6px;height:4.6px;border:1px solid #f27a96;border-radius:50%;box-sizing:border-box;vertical-align:middle"></span></div></div>
<div class="c" style="left:164px;top:230px;width:38px;height:17px;background:#fde6ea;color:#4a4a4a;font-size:5.6px;line-height:6px;text-align:center;border-right:1px solid #f5d9dd;border-bottom:1px solid #f5d9dd;padding-top:1.2px;line-height:0"><div><span style="display:inline-block;width:4.6px;height:4.6px;border:1px solid #f27a96;border-radius:50%;box-sizing:border-box;vertical-align:middle"></span></div></div>
<div class="c" style="left:202px;top:230px;width:38px;height:17px;background:#fde6ea;color:#4a4a4a;font-size:5.6px;line-height:6px;text-align:center;border-right:1px solid #f5d9dd;border-bottom:1px solid #f5d9dd;padding-top:1.2px;line-height:0"><div><span style="display:inline-block;width:4.6px;height:4.6px;border:1px solid #f27a96;border-radius:50%;box-sizing:border-box;vertical-align:middle"></span></div></div>
<div class="c" style="left:240px;top:230px;width:38px;height:17px;background:#fde6ea;color:#4a4a4a;font-size:5.6px;line-height:6px;text-align:center;border-right:1px solid #f5d9dd;border-bottom:1px solid #f5d9dd;padding-top:1.2px;line-height:0"><div><span style="display:inline-block;width:4.6px;height:4.6px;border:1px solid #f27a96;border-radius:50%;box-sizing:border-box;vertical-align:middle"></span></div></div>
<div class="c" style="left:278px;top:230px;width:38px;height:17px;background:#fde6ea;color:#4a4a4a;font-size:5.6px;line-height:6px;text-align:center;border-right:1px solid #f5d9dd;border-bottom:1px solid #f5d9dd;padding-top:1.2px;line-height:0"><div><span style="display:inline-block;width:4.6px;height:4.6px;border:1px solid #f27a96;border-radius:50%;box-sizing:border-box;vertical-align:middle"></span></div></div>
<div class="c" style="left:50px;top:247px;width:38px;height:17px;background:#fde6ea;color:#4a4a4a;font-size:5.6px;line-height:6px;text-align:center;border-right:1px solid #f5d9dd;border-bottom:1px solid #f5d9dd;padding-top:1.2px;"><div>×</div></div>
<div class="c" style="left:88px;top:247px;width:38px;height:17px;background:#fde6ea;color:#4a4a4a;font-size:5.6px;line-height:6px;text-align:center;border-right:1px solid #f5d9dd;border-bottom:1px solid #f5d9dd;padding-top:1.2px;"><div>×</div></div>
<div class="c" style="left:126px;top:247px;width:38px;height:17px;background:#fde6ea;color:#4a4a4a;font-size:5.6px;line-height:6px;text-align:center;border-right:1px solid #f5d9dd;border-bottom:1px solid #f5d9dd;padding-top:1.2px;"><div>×</div></div>
<div class="c" style="left:164px;top:247px;width:38px;height:17px;background:#fde6ea;color:#4a4a4a;font-size:5.6px;line-height:6px;text-align:center;border-right:1px solid #f5d9dd;border-bottom:1px solid #f5d9dd;padding-top:1.2px;"><div>1</div></div>
<div class="c" style="left:202px;top:247px;width:38px;height:17px;background:#fde6ea;color:#4a4a4a;font-size:5.6px;line-height:6px;text-align:center;border-right:1px solid #f5d9dd;border-bottom:1px solid #f5d9dd;padding-top:1.2px;"><div>3</div></div>
<div class="c" style="left:240px;top:247px;width:38px;height:17px;background:#fde6ea;color:#4a4a4a;font-size:5.6px;line-height:6px;text-align:center;border-right:1px solid #f5d9dd;border-bottom:1px solid #f5d9dd;padding-top:1.2px;"><div><span style="color:#e8333d">4</span></div></div>
<div class="c" style="left:278px;top:247px;width:38px;height:17px;background:#fde6ea;color:#4a4a4a;font-size:5.6px;line-height:6px;text-align:center;border-right:1px solid #f5d9dd;border-bottom:1px solid #f5d9dd;padding-top:1.2px;"><div><span style="color:#e8333d">5</span></div></div>
<div class="c" style="left:50px;top:274.2px;width:38px;height:51.30000000000001px;background:#fde6ea;color:#4a4a4a;font-size:5.6px;line-height:6px;text-align:center;border-right:1px solid #f5d9dd;border-bottom:1px solid #f5d9dd;padding-top:1.2px;"></div>
<div class="a" style="left:53px;top:282.1px;font-size:3.7px;line-height:5px;color:#3a3a3a;letter-spacing:-0.3px;font-weight:bold">マニュアルサポート<span style="display:inline-block;width:3.6px;height:3.6px;border:0.7px solid #f27a96;border-radius:50%;box-sizing:border-box;vertical-align:middle"></span></div>
<div class="a" style="left:53px;top:290.3px;font-size:3.7px;line-height:5px;color:#3a3a3a;letter-spacing:-0.3px;font-weight:bold">基本サポート<span style="font-size:4.6px;font-weight:normal;font-family:Liberation Sans">×</span></div>
<div class="a" style="left:53px;top:298.8px;font-size:3.7px;line-height:5px;color:#3a3a3a;letter-spacing:-0.3px;font-weight:bold">スポット配信<span style="font-size:4.6px;font-weight:normal;font-family:Liberation Sans">×</span></div>
<div class="a" style="left:53px;top:307.0px;font-size:3.7px;line-height:5px;color:#3a3a3a;letter-spacing:-0.3px;font-weight:bold">遠隔対応<span style="font-size:4.6px;font-weight:normal;font-family:Liberation Sans">×</span></div>
<div class="a" style="left:53px;top:315.3px;font-size:3.7px;line-height:5px;color:#3a3a3a;letter-spacing:-0.3px;font-weight:bold">コンサルアドバイス<span style="font-size:4.6px;font-weight:normal;font-family:Liberation Sans">×</span></div>
<div class="c" style="left:88px;top:274.2px;width:38px;height:51.30000000000001px;background:#fde6ea;color:#4a4a4a;font-size:5.6px;line-height:6px;text-align:center;border-right:1px solid #f5d9dd;border-bottom:1px solid #f5d9dd;padding-top:1.2px;"></div>
<div class="a" style="left:91px;top:282.1px;font-size:3.7px;line-height:5px;color:#3a3a3a;letter-spacing:-0.3px;font-weight:bold">マニュアルサポート<span style="display:inline-block;width:3.6px;height:3.6px;border:0.7px solid #f27a96;border-radius:50%;box-sizing:border-box;vertical-align:middle"></span></div>
<div class="a" style="left:91px;top:290.3px;font-size:3.7px;line-height:5px;color:#3a3a3a;letter-spacing:-0.3px;font-weight:bold">基本サポート<span style="display:inline-block;width:3.6px;height:3.6px;border:0.7px solid #f27a96;border-radius:50%;box-sizing:border-box;vertical-align:middle"></span></div>
<div class="a" style="left:91px;top:298.8px;font-size:3.7px;line-height:5px;color:#3a3a3a;letter-spacing:-0.3px;font-weight:bold">スポット配信<span style="font-size:4.6px;font-weight:normal;font-family:Liberation Sans">×</span></div>
<div class="a" style="left:91px;top:307.0px;font-size:3.7px;line-height:5px;color:#3a3a3a;letter-spacing:-0.3px;font-weight:bold">遠隔対応<span style="font-size:4.6px;font-weight:normal;font-family:Liberation Sans">×</span></div>
<div class="a" style="left:91px;top:315.3px;font-size:3.7px;line-height:5px;color:#3a3a3a;letter-spacing:-0.3px;font-weight:bold">コンサルアドバイス<span style="font-size:4.6px;font-weight:normal;font-family:Liberation Sans">×</span></div>
<div class="c" style="left:126px;top:274.2px;width:38px;height:51.30000000000001px;background:#fde6ea;color:#4a4a4a;font-size:5.6px;line-height:6px;text-align:center;border-right:1px solid #f5d9dd;border-bottom:1px solid #f5d9dd;padding-top:1.2px;"></div>
<div class="a" style="left:129px;top:282.1px;font-size:3.7px;line-height:5px;color:#3a3a3a;letter-spacing:-0.3px;font-weight:bold">マニュアルサポート<span style="display:inline-block;width:3.6px;height:3.6px;border:0.7px solid #f27a96;border-radius:50%;box-sizing:border-box;vertical-align:middle"></span></div>
<div class="a" style="left:129px;top:290.3px;font-size:3.7px;line-height:5px;color:#3a3a3a;letter-spacing:-0.3px;font-weight:bold">基本サポート<span style="display:inline-block;width:3.6px;height:3.6px;border:0.7px solid #f27a96;border-radius:50%;box-sizing:border-box;vertical-align:middle"></span></div>
<div class="a" style="left:129px;top:298.8px;font-size:3.7px;line-height:5px;color:#3a3a3a;letter-spacing:-0.3px;font-weight:bold">スポット配信<span style="font-size:4.6px;font-weight:normal;font-family:Liberation Sans">×</span></div>
<div class="a" style="left:129px;top:307.0px;font-size:3.7px;line-height:5px;color:#3a3a3a;letter-spacing:-0.3px;font-weight:bold">遠隔対応<span style="font-size:4.6px;font-weight:normal;font-family:Liberation Sans">×</span></div>
<div class="a" style="left:129px;top:315.3px;font-size:3.7px;line-height:5px;color:#3a3a3a;letter-spacing:-0.3px;font-weight:bold">コンサルアドバイス<span style="font-size:4.6px;font-weight:normal;font-family:Liberation Sans">×</span></div>
<div class="c" style="left:164px;top:274.2px;width:38px;height:51.30000000000001px;background:#fde6ea;color:#4a4a4a;font-size:5.6px;line-height:6px;text-align:center;border-right:1px solid #f5d9dd;border-bottom:1px solid #f5d9dd;padding-top:1.2px;"></div>
<div class="a" style="left:167px;top:282.1px;font-size:3.7px;line-height:5px;color:#3a3a3a;letter-spacing:-0.3px;font-weight:bold">マニュアルサポート<span style="display:inline-block;width:3.6px;height:3.6px;border:0.7px solid #f27a96;border-radius:50%;box-sizing:border-box;vertical-align:middle"></span></div>
<div class="a" style="left:167px;top:290.3px;font-size:3.7px;line-height:5px;color:#3a3a3a;letter-spacing:-0.3px;font-weight:bold">基本サポート<span style="display:inline-block;width:3.6px;height:3.6px;border:0.7px solid #f27a96;border-radius:50%;box-sizing:border-box;vertical-align:middle"></span></div>
<div class="a" style="left:167px;top:298.8px;font-size:3.7px;line-height:5px;color:#3a3a3a;letter-spacing:-0.3px;font-weight:bold">スポット配信<span style="font-size:4.6px;font-weight:normal;font-family:Liberation Sans">×</span></div>
<div class="a" style="left:167px;top:307.0px;font-size:3.7px;line-height:5px;color:#3a3a3a;letter-spacing:-0.3px;font-weight:bold">遠隔対応<span style="font-size:4.6px;font-weight:normal;font-family:Liberation Sans">×</span></div>
<div class="a" style="left:167px;top:315.3px;font-size:3.7px;line-height:5px;color:#3a3a3a;letter-spacing:-0.3px;font-weight:bold">コンサルアドバイス<span style="font-size:4.6px;font-weight:normal;font-family:Liberation Sans">×</span></div>
<div class="c" style="left:202px;top:274.2px;width:38px;height:51.30000000000001px;background:#fde6ea;color:#4a4a4a;font-size:5.6px;line-height:6px;text-align:center;border-right:1px solid #f5d9dd;border-bottom:1px solid #f5d9dd;padding-top:1.2px;"></div>
<div class="a" style="left:205px;top:282.1px;font-size:3.7px;line-height:5px;color:#3a3a3a;letter-spacing:-0.3px;font-weight:bold">マニュアルサポート<span style="display:inline-block;width:3.6px;height:3.6px;border:0.7px solid #f27a96;border-radius:50%;box-sizing:border-box;vertical-align:middle"></span></div>
<div class="a" style="left:205px;top:290.3px;font-size:3.7px;line-height:5px;color:#3a3a3a;letter-spacing:-0.3px;font-weight:bold">基本サポート<span style="display:inline-block;width:3.6px;height:3.6px;border:0.7px solid #f27a96;border-radius:50%;box-sizing:border-box;vertical-align:middle"></span></div>
<div class="a" style="left:205px;top:298.8px;font-size:3.7px;line-height:5px;color:#3a3a3a;letter-spacing:-0.3px;font-weight:bold">スポット配信<span style="display:inline-block;width:3.6px;height:3.6px;border:0.7px solid #f27a96;border-radius:50%;box-sizing:border-box;vertical-align:middle"></span></div>
<div class="a" style="left:205px;top:307.0px;font-size:3.7px;line-height:5px;color:#3a3a3a;letter-spacing:-0.3px;font-weight:bold">遠隔対応<span style="display:inline-block;width:3.6px;height:3.6px;border:0.7px solid #f27a96;border-radius:50%;box-sizing:border-box;vertical-align:middle"></span></div>
<div class="a" style="left:205px;top:315.3px;font-size:3.7px;line-height:5px;color:#3a3a3a;letter-spacing:-0.3px;font-weight:bold">コンサルアドバイス<span style="font-size:4.6px;font-weight:normal;font-family:Liberation Sans">×</span></div>
<div class="c" style="left:240px;top:274.2px;width:38px;height:51.30000000000001px;background:#fde6ea;color:#4a4a4a;font-size:5.6px;line-height:6px;text-align:center;border-right:1px solid #f5d9dd;border-bottom:1px solid #f5d9dd;padding-top:1.2px;"></div>
<div class="a" style="left:243px;top:282.1px;font-size:3.7px;line-height:5px;color:#3a3a3a;letter-spacing:-0.3px;font-weight:bold">マニュアルサポート<span style="display:inline-block;width:3.6px;height:3.6px;border:0.7px solid #f27a96;border-radius:50%;box-sizing:border-box;vertical-align:middle"></span></div>
<div class="a" style="left:243px;top:290.3px;font-size:3.7px;line-height:5px;color:#3a3a3a;letter-spacing:-0.3px;font-weight:bold">基本サポート<span style="display:inline-block;width:3.6px;height:3.6px;border:0.7px solid #f27a96;border-radius:50%;box-sizing:border-box;vertical-align:middle"></span></div>
<div class="a" style="left:243px;top:298.8px;font-size:3.7px;line-height:5px;color:#3a3a3a;letter-spacing:-0.3px;font-weight:bold">スポット配信<span style="display:inline-block;width:3.6px;height:3.6px;border:0.7px solid #f27a96;border-radius:50%;box-sizing:border-box;vertical-align:middle"></span></div>
<div class="a" style="left:243px;top:307.0px;font-size:3.7px;line-height:5px;color:#3a3a3a;letter-spacing:-0.3px;font-weight:bold">遠隔対応<span style="display:inline-block;width:3.6px;height:3.6px;border:0.7px solid #f27a96;border-radius:50%;box-sizing:border-box;vertical-align:middle"></span></div>
<div class="a" style="left:243px;top:315.3px;font-size:3.7px;line-height:5px;color:#3a3a3a;letter-spacing:-0.3px;font-weight:bold">コンサルアドバイス<span style="font-size:4.6px;font-weight:normal;font-family:Liberation Sans">×</span></div>
<div class="c" style="left:278px;top:274.2px;width:38px;height:51.30000000000001px;background:#fde6ea;color:#4a4a4a;font-size:5.6px;line-height:6px;text-align:center;border-right:1px solid #f5d9dd;border-bottom:1px solid #f5d9dd;padding-top:1.2px;"></div>
<div class="a" style="left:281px;top:282.1px;font-size:3.7px;line-height:5px;color:#3a3a3a;letter-spacing:-0.3px;font-weight:bold">マニュアルサポート<span style="display:inline-block;width:3.6px;height:3.6px;border:0.7px solid #f27a96;border-radius:50%;box-sizing:border-box;vertical-align:middle"></span></div>
<div class="a" style="left:281px;top:290.3px;font-size:3.7px;line-height:5px;color:#3a3a3a;letter-spacing:-0.3px;font-weight:bold">基本サポート<span style="display:inline-block;width:3.6px;height:3.6px;border:0.7px solid #f27a96;border-radius:50%;box-sizing:border-box;vertical-align:middle"></span></div>
<div class="a" style="left:281px;top:298.8px;font-size:3.7px;line-height:5px;color:#3a3a3a;letter-spacing:-0.3px;font-weight:bold">スポット配信<span style="display:inline-block;width:3.6px;height:3.6px;border:0.7px solid #f27a96;border-radius:50%;box-sizing:border-box;vertical-align:middle"></span></div>
<div class="a" style="left:281px;top:307.0px;font-size:3.7px;line-height:5px;color:#3a3a3a;letter-spacing:-0.3px;font-weight:bold">遠隔対応<span style="display:inline-block;width:3.6px;height:3.6px;border:0.7px solid #f27a96;border-radius:50%;box-sizing:border-box;vertical-align:middle"></span></div>
<div class="a" style="left:281px;top:315.3px;font-size:3.7px;line-height:5px;color:#3a3a3a;letter-spacing:-0.3px;font-weight:bold">コンサルアドバイス<span style="display:inline-block;width:3.6px;height:3.6px;border:0.7px solid #f27a96;border-radius:50%;box-sizing:border-box;vertical-align:middle"></span></div>
<div class="c" style="left:50px;top:325.5px;width:38px;height:15.0px;background:#ffffff;color:#4a4a4a;font-size:5.6px;line-height:6px;text-align:center;border-right:1px solid #ececec;border-bottom:1px solid #ececec;padding-top:1.2px;font-size:5.3px"><div>0日</div></div>
<div class="c" style="left:88px;top:325.5px;width:38px;height:15.0px;background:#ffffff;color:#4a4a4a;font-size:5.6px;line-height:6px;text-align:center;border-right:1px solid #ececec;border-bottom:1px solid #ececec;padding-top:1.2px;font-size:5.3px"><div>7日間</div></div>
<div class="c" style="left:126px;top:325.5px;width:38px;height:15.0px;background:#ffffff;color:#4a4a4a;font-size:5.6px;line-height:6px;text-align:center;border-right:1px solid #ececec;border-bottom:1px solid #ececec;padding-top:1.2px;font-size:5.3px"><div>15日間</div></div>
<div class="c" style="left:164px;top:325.5px;width:38px;height:15.0px;background:#ffffff;color:#4a4a4a;font-size:5.6px;line-height:6px;text-align:center;border-right:1px solid #ececec;border-bottom:1px solid #ececec;padding-top:1.2px;font-size:5.3px"><div>30日間</div></div>
<div class="c" style="left:202px;top:325.5px;width:38px;height:15.0px;background:#ffffff;color:#4a4a4a;font-size:5.6px;line-height:6px;text-align:center;border-right:1px solid #ececec;border-bottom:1px solid #ececec;padding-top:1.2px;font-size:5.3px"><div>60日間</div></div>
<div class="c" style="left:240px;top:325.5px;width:76px;height:15.0px;background:#ffffff;color:#4a4a4a;font-size:5.6px;line-height:6px;text-align:center;border-right:1px solid #ececec;border-bottom:1px solid #ececec;padding-top:1.2px;padding-left:3px;font-size:5.3px"><div>90日間</div></div>
<div class="c" style="left:50px;top:350.4px;width:38px;height:16.600000000000023px;background:#ffffff;color:#4a4a4a;font-size:5.6px;line-height:6px;text-align:center;border-right:1px solid #ececec;border-bottom:1px solid #ececec;padding-top:1.2px;line-height:0"><div><span style="display:inline-block;width:4.6px;height:4.6px;border:1px solid #f27a96;border-radius:50%;box-sizing:border-box;vertical-align:middle"></span></div></div>
<div class="c" style="left:88px;top:350.4px;width:38px;height:16.600000000000023px;background:#ffffff;color:#4a4a4a;font-size:5.6px;line-height:6px;text-align:center;border-right:1px solid #ececec;border-bottom:1px solid #ececec;padding-top:1.2px;line-height:0"><div><span style="display:inline-block;width:4.6px;height:4.6px;border:1px solid #f27a96;border-radius:50%;box-sizing:border-box;vertical-align:middle"></span></div></div>
<div class="c" style="left:126px;top:350.4px;width:38px;height:16.600000000000023px;background:#ffffff;color:#4a4a4a;font-size:5.6px;line-height:6px;text-align:center;border-right:1px solid #ececec;border-bottom:1px solid #ececec;padding-top:1.2px;line-height:0"><div><span style="display:inline-block;width:4.6px;height:4.6px;border:1px solid #f27a96;border-radius:50%;box-sizing:border-box;vertical-align:middle"></span></div></div>
<div class="c" style="left:164px;top:350.4px;width:38px;height:16.600000000000023px;background:#ffffff;color:#4a4a4a;font-size:5.6px;line-height:6px;text-align:center;border-right:1px solid #ececec;border-bottom:1px solid #ececec;padding-top:1.2px;line-height:0"><div><span style="display:inline-block;width:4.6px;height:4.6px;border:1px solid #f27a96;border-radius:50%;box-sizing:border-box;vertical-align:middle"></span></div></div>
<div class="c" style="left:202px;top:350.4px;width:38px;height:16.600000000000023px;background:#ffffff;color:#4a4a4a;font-size:5.6px;line-height:6px;text-align:center;border-right:1px solid #ececec;border-bottom:1px solid #ececec;padding-top:1.2px;line-height:0"><div><span style="display:inline-block;width:4.6px;height:4.6px;border:1px solid #f27a96;border-radius:50%;box-sizing:border-box;vertical-align:middle"></span></div></div>
<div class="c" style="left:240px;top:350.4px;width:38px;height:16.600000000000023px;background:#ffffff;color:#4a4a4a;font-size:5.6px;line-height:6px;text-align:center;border-right:1px solid #ececec;border-bottom:1px solid #ececec;padding-top:1.2px;line-height:0"><div><span style="display:inline-block;width:4.6px;height:4.6px;border:1px solid #f27a96;border-radius:50%;box-sizing:border-box;vertical-align:middle"></span></div></div>
<div class="c" style="left:278px;top:350.4px;width:38px;height:16.600000000000023px;background:#ffffff;color:#4a4a4a;font-size:5.6px;line-height:6px;text-align:center;border-right:1px solid #ececec;border-bottom:1px solid #ececec;padding-top:1.2px;line-height:0"><div><span style="display:inline-block;width:4.6px;height:4.6px;border:1px solid #f27a96;border-radius:50%;box-sizing:border-box;vertical-align:middle"></span></div></div>
<div class="c" style="left:50px;top:367px;width:38px;height:17.100000000000023px;background:#ffffff;color:#4a4a4a;font-size:5.6px;line-height:6px;text-align:center;border-right:1px solid #ececec;border-bottom:1px solid #ececec;padding-top:1.2px;"></div>
<div class="a" style="left:69.6px;top:372.5px;transform:translate(-50%,-50%);text-align:center;line-height:0"><span style="display:inline-block;width:5px;height:5px;border:0.9px solid #f27a96;border-radius:50%;box-sizing:border-box;vertical-align:middle"></span></div>
<div class="a" style="left:70px;top:379.4px;transform:translate(-50%,-50%);text-align:center;font-size:4.6px;color:#4a4a4a">一部利用可能</div>
<div class="c" style="left:88px;top:367px;width:228px;height:17.100000000000023px;background:#ffffff;color:#4a4a4a;font-size:5.6px;line-height:6px;text-align:center;border-right:1px solid #ececec;border-bottom:1px solid #ececec;padding-top:1.2px;"></div>
<div class="a" style="left:154.2px;top:375.8px;transform:translate(-50%,-50%);text-align:center;line-height:0"><span style="display:inline-block;width:4.6px;height:4.6px;border:1px solid #f27a96;border-radius:50%;box-sizing:border-box;vertical-align:middle"></span></div>
<div class="a" style="left:162px;top:371.9px;font-size:4.9px;color:#4a4a4a">全ての保証利用可能</div>
<div class="c" style="left:50px;top:393.9px;width:38px;height:17.100000000000023px;background:#ffffff;color:#4a4a4a;font-size:5.6px;line-height:6px;text-align:center;border-right:1px solid #ececec;border-bottom:1px solid #ececec;padding-top:1.2px;line-height:0"><div><svg width="4.4" height="4.4" viewBox="0 0 10 10" style="vertical-align:middle;display:inline-block"><path d="M1 1L9 9M9 1L1 9" stroke="#222" stroke-width="1.9318181818181817" fill="none"/></svg></div></div>
<div class="c" style="left:88px;top:393.9px;width:228px;height:17.100000000000023px;background:#ffffff;color:#4a4a4a;font-size:5.6px;line-height:6px;text-align:center;border-right:1px solid #ececec;border-bottom:1px solid #ececec;padding-top:1.2px;"></div>
<div class="a" style="left:127.9px;top:402.6px;transform:translate(-50%,-50%);text-align:center;line-height:0"><span style="display:inline-block;width:4.6px;height:4.6px;border:1px solid #f27a96;border-radius:50%;box-sizing:border-box;vertical-align:middle"></span></div>
<div class="a" style="left:133.8px;top:399.3px;font-size:5.6px;color:#4a4a4a">初回0円</div>
<div class="a" style="left:162px;top:398.2px;font-size:4.9px;color:#4a4a4a;letter-spacing:0.45px">※初回支払い期間内は各プラン料金に含まれます</div>
<div class="c" style="left:50px;top:411px;width:38px;height:17px;background:#ffffff;color:#4a4a4a;font-size:5.6px;line-height:6px;text-align:center;border-right:1px solid #ececec;border-bottom:1px solid #ececec;padding-top:1.2px;font-size:5.7px;letter-spacing:-0.1px"><div>月額¥30,000</div></div>
<div class="c" style="left:88px;top:411px;width:114px;height:17px;background:#ffffff;color:#4a4a4a;font-size:5.6px;line-height:6px;text-align:center;border-right:1px solid #ececec;border-bottom:1px solid #ececec;padding-top:1.2px;font-size:5.7px;letter-spacing:-0.1px"><div>月額¥15,000</div></div>
<div class="c" style="left:202px;top:411px;width:76px;height:17px;background:#ffffff;color:#4a4a4a;font-size:5.6px;line-height:6px;text-align:center;border-right:1px solid #ececec;border-bottom:1px solid #ececec;padding-top:1.2px;font-size:5.7px;letter-spacing:-0.1px"><div>月額¥9,000</div></div>
<div class="c" style="left:278px;top:411px;width:38px;height:17px;background:#ffffff;color:#4a4a4a;font-size:5.6px;line-height:6px;text-align:center;border-right:1px solid #ececec;border-bottom:1px solid #ececec;padding-top:1.2px;font-size:5.7px;letter-spacing:-0.1px"><div>月額¥3,000</div></div>
<div class="a" style="left:89.6px;top:97.6px;width:35.400000000000006px;height:32.90000000000001px;border:1.3px solid #e0262e;box-sizing:border-box"></div>
<div class="a" style="left:127.6px;top:97.6px;width:35.400000000000006px;height:32.90000000000001px;border:1.3px solid #e0262e;box-sizing:border-box"></div>
<div class="a" style="left:165.6px;top:97.6px;width:35.400000000000006px;height:32.90000000000001px;border:1.3px solid #e0262e;box-sizing:border-box"></div>
<div class="a" style="left:203.6px;top:97.6px;width:35.400000000000006px;height:32.90000000000001px;border:1.3px solid #e0262e;box-sizing:border-box"></div>
<div class="a" style="left:241.6px;top:97.6px;width:35.400000000000006px;height:32.90000000000001px;border:1.3px solid #e0262e;box-sizing:border-box"></div>
<div class="a" style="left:279.6px;top:97.6px;width:35.39999999999998px;height:32.90000000000001px;border:1.3px solid #e0262e;box-sizing:border-box"></div>
<div class="b" style="left:228.2px;top:-6.3999999999999995px;width:11.6px;height:11.6px;"><span>必須</span></div>
<div class="b" style="left:265.0px;top:-6.3999999999999995px;width:11.6px;height:11.6px;"><span>必須</span></div>
<div class="b" style="left:265.5px;top:87.2px;width:11.6px;height:11.6px;"><span>必須</span></div>
<div class="b" style="left:265.2px;top:183.2px;width:11.6px;height:11.6px;"><span>必須</span></div>
<div class="b" style="left:303.2px;top:183.2px;width:11.6px;height:11.6px;"><span>必須</span></div>
<div class="b" style="left:263.7px;top:249.2px;width:11.6px;height:11.6px;"><span>必須</span></div>
<div class="b" style="left:301.2px;top:249.2px;width:11.6px;height:11.6px;"><span>必須</span></div>
<div class="b" style="left:230.0px;top:295.59999999999997px;width:11.6px;height:11.6px;"><span>必須</span></div>
<div class="b" style="left:268.2px;top:295.59999999999997px;width:11.6px;height:11.6px;"><span>必須</span></div>
<div class="b" style="left:303.2px;top:318.7px;width:11.6px;height:11.6px;"><span>必須</span></div>
<div class="b" style="left:288.9px;top:327.4px;width:11.6px;height:11.6px;"><span>必須</span></div>
<div class="c" style="left:398px;top:0px;width:44px;height:424.5px;background:#176bba;"></div>
<div class="c" style="left:398px;top:0px;width:44px;height:18.2px;background:#176bba;color:#fff;font-size:5.40px;line-height:6px;text-align:center;font-weight:normal;letter-spacing:-0.1px;padding-top:1.2px"><div>プラン名</div></div>
<div class="c" style="left:398px;top:30px;width:44px;height:19px;background:#176bba;color:#fff;font-size:5.40px;line-height:6px;text-align:center;font-weight:normal;letter-spacing:-0.1px;padding-top:1.2px"><div>定価(総額)</div></div>
<div class="c" style="left:398px;top:49px;width:44px;height:20px;background:#176bba;color:#fff;font-size:5.40px;line-height:6px;text-align:center;font-weight:normal;letter-spacing:-0.1px;padding-top:1.2px"><div>支払い方法</div></div>
<div class="c" style="left:398px;top:69px;width:44px;height:19px;background:#176bba;color:#fff;font-size:5.40px;line-height:6px;text-align:center;font-weight:normal;letter-spacing:-0.1px;padding-top:1.2px"><div>定価</div></div>
<div class="c" style="left:398px;top:88px;width:44px;height:20px;background:#176bba;color:#fff;font-size:5.40px;line-height:6px;text-align:center;font-weight:normal;letter-spacing:-0.1px;padding-top:1.2px"><div>特別割引</div></div>
<div class="c" style="left:398px;top:108px;width:44px;height:20px;background:#176bba;color:#fff;font-size:5.40px;line-height:6px;text-align:center;font-weight:normal;letter-spacing:-0.1px;padding-top:1.2px"><div>割引適用</div></div>
<div class="c" style="left:398px;top:128px;width:44px;height:20px;background:#176bba;color:#fff;font-size:5.40px;line-height:6px;text-align:center;font-weight:normal;letter-spacing:-0.1px;padding-top:1.2px"><div>現金割引</div></div>
<div class="c" style="left:398px;top:148px;width:44px;height:19.5px;background:#176bba;color:#fff;font-size:5.40px;line-height:6px;text-align:center;font-weight:normal;letter-spacing:-0.1px;padding-top:1.2px"><div>月額換算</div></div>
<div class="c" style="left:398px;top:167.5px;width:44px;height:20.0px;background:#fbf36c;color:#444;font-size:5px;line-height:6px;text-align:center;padding-top:1px"><div>想定収益①<br>1ペア運用</div></div>
<div class="c" style="left:398px;top:187.5px;width:44px;height:19.5px;background:#fbf36c;color:#444;font-size:5px;line-height:6px;text-align:center;padding-top:1px"><div>想定収益②<br>2ペア運用</div></div>
<div class="c" style="left:398px;top:207px;width:44px;height:20px;background:#176bba;color:#fff;font-size:5.40px;line-height:6px;text-align:center;font-weight:normal;letter-spacing:-0.1px;padding-top:1.2px"><div>利用期間</div></div>
<div class="c" style="left:398px;top:238px;width:44px;height:19.5px;background:#176bba;color:#fff;font-size:5.40px;line-height:6px;text-align:center;font-weight:normal;letter-spacing:-0.1px;padding-top:1.2px"><div>対応ペア数</div></div>
<div class="c" style="left:398px;top:257.5px;width:44px;height:19.5px;background:#176bba;color:#fff;font-size:5.40px;line-height:6px;text-align:center;font-weight:normal;letter-spacing:-0.1px;padding-top:1.2px"><div>対応システム</div></div>
<div class="c" style="left:398px;top:289px;width:44px;height:49px;background:#176bba;color:#fff;font-size:5.40px;line-height:6px;text-align:center;font-weight:normal;letter-spacing:-0.1px;padding-top:1.2px"><div>設置サポート</div></div>
<div class="c" style="left:398px;top:338px;width:44px;height:18px;background:#176bba;color:#fff;font-size:5.40px;line-height:6px;text-align:center;font-weight:normal;letter-spacing:-0.1px;padding-top:1.2px"><div>キャンペーン</div></div>
<div class="c" style="left:398px;top:356px;width:44px;height:18.5px;background:#176bba;color:#fff;font-size:5.40px;line-height:6px;text-align:center;font-weight:normal;letter-spacing:-0.1px;padding-top:1.2px"><div>保証</div></div>
<div class="c" style="left:398px;top:386px;width:44px;height:19px;background:#176bba;color:#fff;font-size:5.14px;line-height:6px;text-align:center;font-weight:normal;letter-spacing:-0.1px;padding-top:1.2px"><div>プラン利用割引</div></div>
<div class="c" style="left:398px;top:405px;width:44px;height:19.5px;background:#176bba;color:#fff;font-size:5.40px;line-height:6px;text-align:center;font-weight:normal;letter-spacing:-0.1px;padding-top:1.2px"><div>更新時費用</div></div>
<div class="a" style="left:398px;top:18.2px;width:44px;height:0.8000000000000007px;background:#4d9fe2"></div>
<div class="a" style="left:398px;top:30px;width:44px;height:0.8000000000000007px;background:#4d9fe2"></div>
<div class="a" style="left:398px;top:49px;width:44px;height:0.7999999999999972px;background:#4d9fe2"></div>
<div class="a" style="left:398px;top:69px;width:44px;height:0.7999999999999972px;background:#4d9fe2"></div>
<div class="a" style="left:398px;top:88px;width:44px;height:0.7999999999999972px;background:#4d9fe2"></div>
<div class="a" style="left:398px;top:108px;width:44px;height:0.7999999999999972px;background:#4d9fe2"></div>
<div class="a" style="left:398px;top:128px;width:44px;height:0.8000000000000114px;background:#4d9fe2"></div>
<div class="a" style="left:398px;top:148px;width:44px;height:0.8000000000000114px;background:#4d9fe2"></div>
<div class="a" style="left:398px;top:227px;width:44px;height:0.8000000000000114px;background:#4d9fe2"></div>
<div class="a" style="left:398px;top:238px;width:44px;height:0.8000000000000114px;background:#4d9fe2"></div>
<div class="a" style="left:398px;top:257.5px;width:44px;height:0.8000000000000114px;background:#4d9fe2"></div>
<div class="a" style="left:398px;top:277px;width:44px;height:0.8000000000000114px;background:#4d9fe2"></div>
<div class="a" style="left:398px;top:289px;width:44px;height:0.8000000000000114px;background:#4d9fe2"></div>
<div class="a" style="left:398px;top:338px;width:44px;height:0.8000000000000114px;background:#4d9fe2"></div>
<div class="a" style="left:398px;top:356px;width:44px;height:0.8000000000000114px;background:#4d9fe2"></div>
<div class="a" style="left:398px;top:374.5px;width:44px;height:0.8000000000000114px;background:#4d9fe2"></div>
<div class="a" style="left:398px;top:386px;width:44px;height:0.8000000000000114px;background:#4d9fe2"></div>
<div class="a" style="left:398px;top:405px;width:44px;height:0.8000000000000114px;background:#4d9fe2"></div>
<div class="c" style="left:442px;top:18.2px;width:308px;height:1.0px;background:#176bba;"></div>
<div class="c" style="left:398px;top:19.0px;width:352px;height:11.0px;background:#176bba;color:#fff;font-size:4.7px;font-weight:bold;letter-spacing:2.05px;padding-top:0.3px;padding-left:2px"><div>価格について</div></div>
<div class="c" style="left:442px;top:227px;width:308px;height:1px;background:#176bba;"></div>
<div class="c" style="left:398px;top:227.8px;width:352px;height:10.199999999999989px;background:#176bba;color:#fff;font-size:4.7px;font-weight:bold;letter-spacing:2.05px;padding-top:0.3px;padding-left:2px"><div>オプションシステムについて</div></div>
<div class="c" style="left:442px;top:277px;width:308px;height:1px;background:#176bba;"></div>
<div class="c" style="left:398px;top:277.8px;width:352px;height:11.199999999999989px;background:#176bba;color:#fff;font-size:4.7px;font-weight:bold;letter-spacing:2.05px;padding-top:0.3px;padding-left:2px"><div>サービスについて</div></div>
<div class="c" style="left:442px;top:374.5px;width:308px;height:1.0px;background:#176bba;"></div>
<div class="c" style="left:398px;top:375.3px;width:352px;height:10.699999999999989px;background:#176bba;color:#fff;font-size:4.7px;font-weight:bold;letter-spacing:2.05px;padding-top:0.3px;padding-left:2px"><div>ライセンスについて</div></div>
<div class="c" style="left:442px;top:0px;width:44px;height:18.2px;background:#ffffff;color:#3a3a3a;font-size:6.4px;line-height:7px;text-align:center;border-right:1px solid #ebebeb;padding-top:0.8px;color:#555;font-weight:bold;font-size:7.2px;line-height:6.8px;letter-spacing:-0.35px;border-bottom:none;padding-top:0.5px"><div>スタート</div></div>
<div class="c" style="left:486px;top:0px;width:44px;height:18.2px;background:#ffffff;color:#3a3a3a;font-size:6.4px;line-height:7px;text-align:center;border-right:1px solid #ebebeb;padding-top:0.8px;color:#58bcc6;font-weight:bold;font-size:7.2px;line-height:6.8px;letter-spacing:-0.35px;border-bottom:none;padding-top:0.5px"><div>ミニマム</div></div>
<div class="c" style="left:530px;top:0px;width:44px;height:18.2px;background:#ffffff;color:#3a3a3a;font-size:6.4px;line-height:7px;text-align:center;border-right:1px solid #ebebeb;padding-top:0.8px;color:#e23e4c;font-weight:bold;font-size:7.2px;line-height:6.8px;letter-spacing:-0.35px;border-bottom:none;padding-top:0.5px"><div>ミディアム</div></div>
<div class="c" style="left:574px;top:0px;width:44px;height:18.2px;background:#ffffff;color:#3a3a3a;font-size:6.4px;line-height:7px;text-align:center;border-right:1px solid #ebebeb;padding-top:0.8px;color:#6f63c2;font-weight:bold;font-size:7.2px;line-height:6.8px;letter-spacing:-0.35px;border-bottom:none;padding-top:0.5px"><div>ビジネス</div></div>
<div class="c" style="left:618px;top:0px;width:44px;height:18.2px;background:#ffffff;color:#3a3a3a;font-size:6.4px;line-height:7px;text-align:center;border-right:1px solid #ebebeb;padding-top:0.8px;color:#f0a630;font-weight:bold;font-size:7.2px;line-height:6.8px;letter-spacing:-0.35px;border-bottom:none;padding-top:0.5px"><div>マスター</div></div>
<div class="c" style="left:662px;top:0px;width:44px;height:18.2px;background:#ffffff;color:#3a3a3a;font-size:6.4px;line-height:7px;text-align:center;border-right:1px solid #ebebeb;padding-top:0.8px;color:#58ab3c;font-weight:bold;font-size:6.6px;line-height:6.8px;letter-spacing:-0.4px;border-bottom:none;padding-top:0.5px"><div>エキスパート</div></div>
<div class="c" style="left:706px;top:0px;width:44px;height:18.2px;background:#ffffff;color:#3a3a3a;font-size:6.4px;line-height:7px;text-align:center;border-right:1px solid #ebebeb;padding-top:0.8px;color:#1b5cae;font-weight:bold;font-size:6.9px;line-height:6.8px;letter-spacing:-0.2px;border-bottom:none;padding-top:0.5px"><div>スペシャル<br><span style="font-size:8.3px;letter-spacing:0">ASK</span></div></div>
<div class="c" style="left:442px;top:30px;width:308px;height:19px;background:#ffffff;color:#3a3a3a;font-size:6.4px;line-height:7px;text-align:center;border-right:1px solid #ebebeb;padding-top:0.8px;font-size:6.4px;letter-spacing:0.1px"><div>¥120,000×12回支払い　※定価でのお支払い総額</div></div>
<div class="c" style="left:442px;top:49px;width:44px;height:20px;background:#ffffff;color:#3a3a3a;font-size:6.4px;line-height:7px;text-align:center;border-right:1px solid #ebebeb;border-top:0.9px solid #ebebeb;padding-top:0.8px;font-size:5.6px;line-height:6.6px"><div>15日以降～<br>定価</div></div>
<div class="c" style="left:486px;top:49px;width:44px;height:20px;background:#f1f6fb;color:#3a3a3a;font-size:6.4px;line-height:7px;text-align:center;border-right:1px solid #ebebeb;border-top:0.9px solid #ebebeb;padding-top:0.8px;font-size:5.6px;line-height:6.6px"><div>1か月前払い</div></div>
<div class="c" style="left:530px;top:49px;width:44px;height:20px;background:#fdeef0;color:#3a3a3a;font-size:6.4px;line-height:7px;text-align:center;border-right:1px solid #ebebeb;border-top:0.9px solid #ebebeb;padding-top:0.8px;font-size:5.6px;line-height:6.6px"><div>2か月前払い</div></div>
<div class="c" style="left:574px;top:49px;width:44px;height:20px;background:#f3f1fb;color:#3a3a3a;font-size:6.4px;line-height:7px;text-align:center;border-right:1px solid #ebebeb;border-top:0.9px solid #ebebeb;padding-top:0.8px;font-size:5.6px;line-height:6.6px"><div>3か月前払い</div></div>
<div class="c" style="left:618px;top:49px;width:44px;height:20px;background:#fef6ea;color:#3a3a3a;font-size:6.4px;line-height:7px;text-align:center;border-right:1px solid #ebebeb;border-top:0.9px solid #ebebeb;padding-top:0.8px;font-size:5.6px;line-height:6.6px"><div>6か月前払い</div></div>
<div class="c" style="left:662px;top:49px;width:88px;height:20px;background:#eef6ec;color:#3a3a3a;font-size:6.4px;line-height:7px;text-align:center;border-right:1px solid #ebebeb;border-top:0.9px solid #ebebeb;padding-top:0.8px;font-size:5.6px"><div>1年分まとめ払い</div></div>
<div class="c" style="left:442px;top:69px;width:44px;height:19px;background:#ffffff;color:#3a3a3a;font-size:6.4px;line-height:7px;text-align:center;border-right:1px solid #ebebeb;border-top:0.9px solid #ebebeb;padding-top:0.8px;"><div>¥120,000</div></div>
<div class="c" style="left:486px;top:69px;width:44px;height:19px;background:#f1f6fb;color:#3a3a3a;font-size:6.4px;line-height:7px;text-align:center;border-right:1px solid #ebebeb;border-top:0.9px solid #ebebeb;padding-top:0.8px;"><div>¥120,000</div></div>
<div class="c" style="left:530px;top:69px;width:44px;height:19px;background:#fdeef0;color:#3a3a3a;font-size:6.4px;line-height:7px;text-align:center;border-right:1px solid #ebebeb;border-top:0.9px solid #ebebeb;padding-top:0.8px;"><div>¥240,000</div></div>
<div class="c" style="left:574px;top:69px;width:44px;height:19px;background:#f3f1fb;color:#3a3a3a;font-size:6.4px;line-height:7px;text-align:center;border-right:1px solid #ebebeb;border-top:0.9px solid #ebebeb;padding-top:0.8px;"><div>¥360,000</div></div>
<div class="c" style="left:618px;top:69px;width:44px;height:19px;background:#fef6ea;color:#3a3a3a;font-size:6.4px;line-height:7px;text-align:center;border-right:1px solid #ebebeb;border-top:0.9px solid #ebebeb;padding-top:0.8px;"><div>¥720,000</div></div>
<div class="c" style="left:662px;top:69px;width:44px;height:19px;background:#eef6ec;color:#3a3a3a;font-size:6.4px;line-height:7px;text-align:center;border-right:1px solid #ebebeb;border-top:0.9px solid #ebebeb;padding-top:0.8px;"><div>¥1,440,000</div></div>
<div class="c" style="left:706px;top:69px;width:44px;height:19px;background:#eef6ec;color:#3a3a3a;font-size:6.4px;line-height:7px;text-align:center;border-right:1px solid #ebebeb;border-top:0.9px solid #ebebeb;padding-top:0.8px;"><div>ASK</div></div>
<div class="c" style="left:442px;top:88px;width:44px;height:20px;background:#ffffff;color:#3a3a3a;font-size:6.4px;line-height:7px;text-align:center;border-right:1px solid #ebebeb;border-top:0.9px solid #ebebeb;padding-top:0.8px;line-height:6px"><div><svg width="5" height="5" viewBox="0 0 10 10" style="vertical-align:middle;display:inline-block"><path d="M1 1L9 9M9 1L1 9" stroke="#222" stroke-width="1.6" fill="none"/></svg></div></div>
<div class="c" style="left:486px;top:88px;width:44px;height:20px;background:#f1f6fb;color:#3a3a3a;font-size:6.4px;line-height:7px;text-align:center;border-right:1px solid #ebebeb;border-top:0.9px solid #ebebeb;padding-top:0.8px;line-height:6px"><div><span style="color:#d9384e;font-size:7px">¥54,000<br><span style="font-size:5.2px;font-weight:bold">割引!!!</span></span></div></div>
<div class="c" style="left:530px;top:88px;width:44px;height:20px;background:#fdeef0;color:#3a3a3a;font-size:6.4px;line-height:7px;text-align:center;border-right:1px solid #ebebeb;border-top:0.9px solid #ebebeb;padding-top:0.8px;line-height:6px"><div><span style="color:#d9384e;font-size:7px">¥65,000<br><span style="font-size:5.2px;font-weight:bold">割引!!!</span></span></div></div>
<div class="c" style="left:574px;top:88px;width:44px;height:20px;background:#f3f1fb;color:#3a3a3a;font-size:6.4px;line-height:7px;text-align:center;border-right:1px solid #ebebeb;border-top:0.9px solid #ebebeb;padding-top:0.8px;line-height:6px"><div><span style="color:#d9384e;font-size:7px">¥87,000<br><span style="font-size:5.2px;font-weight:bold">割引!!!</span></span></div></div>
<div class="c" style="left:618px;top:88px;width:44px;height:20px;background:#fef6ea;color:#3a3a3a;font-size:6.4px;line-height:7px;text-align:center;border-right:1px solid #ebebeb;border-top:0.9px solid #ebebeb;padding-top:0.8px;line-height:6px"><div><span style="color:#d9384e;font-size:7px">¥236,000<br><span style="font-size:5.2px;font-weight:bold">割引!!!</span></span></div></div>
<div class="c" style="left:662px;top:88px;width:44px;height:20px;background:#eef6ec;color:#3a3a3a;font-size:6.4px;line-height:7px;text-align:center;border-right:1px solid #ebebeb;border-top:0.9px solid #ebebeb;padding-top:0.8px;line-height:6px"><div><span style="color:#d9384e;font-size:7px">¥311,000<br><span style="font-size:5.2px;font-weight:bold">割引!!!</span></span></div></div>
<div class="c" style="left:706px;top:88px;width:44px;height:20px;background:#eef6ec;color:#3a3a3a;font-size:6.4px;line-height:7px;text-align:center;border-right:1px solid #ebebeb;border-top:0.9px solid #ebebeb;padding-top:0.8px;line-height:6px"><div>ASK</div></div>
<div class="c" style="left:442px;top:108px;width:44px;height:20px;background:#ffffff;color:#3a3a3a;font-size:6.4px;line-height:7px;text-align:center;border-right:1px solid #ebebeb;border-top:0.9px solid #ebebeb;padding-top:0.8px;"><div><svg width="5" height="5" viewBox="0 0 10 10" style="vertical-align:middle;display:inline-block"><path d="M1 1L9 9M9 1L1 9" stroke="#222" stroke-width="1.6" fill="none"/></svg></div></div>
<div class="c" style="left:486px;top:108px;width:44px;height:20px;background:#f1f6fb;color:#3a3a3a;font-size:6.4px;line-height:7px;text-align:center;border-right:1px solid #ebebeb;border-top:0.9px solid #ebebeb;padding-top:0.8px;"><div>¥66,000</div></div>
<div class="c" style="left:530px;top:108px;width:44px;height:20px;background:#fdeef0;color:#3a3a3a;font-size:6.4px;line-height:7px;text-align:center;border-right:1px solid #ebebeb;border-top:0.9px solid #ebebeb;padding-top:0.8px;"><div>¥175,000</div></div>
<div class="c" style="left:574px;top:108px;width:44px;height:20px;background:#f3f1fb;color:#3a3a3a;font-size:6.4px;line-height:7px;text-align:center;border-right:1px solid #ebebeb;border-top:0.9px solid #ebebeb;padding-top:0.8px;"><div>¥273,000</div></div>
<div class="c" style="left:618px;top:108px;width:44px;height:20px;background:#fef6ea;color:#3a3a3a;font-size:6.4px;line-height:7px;text-align:center;border-right:1px solid #ebebeb;border-top:0.9px solid #ebebeb;padding-top:0.8px;"><div>¥484,000</div></div>
<div class="c" style="left:662px;top:108px;width:44px;height:20px;background:#eef6ec;color:#3a3a3a;font-size:6.4px;line-height:7px;text-align:center;border-right:1px solid #ebebeb;border-top:0.9px solid #ebebeb;padding-top:0.8px;"><div>¥1,129,000</div></div>
<div class="c" style="left:442px;top:128px;width:44px;height:20px;background:#ffffff;color:#3a3a3a;font-size:6.4px;line-height:7px;text-align:center;border-right:1px solid #ebebeb;border-top:0.9px solid #ebebeb;padding-top:0.8px;line-height:6.4px;padding-top:1px"><div>¥108,000<br>(10%off)</div></div>
<div class="c" style="left:486px;top:128px;width:44px;height:20px;background:#f1f6fb;color:#3a3a3a;font-size:6.4px;line-height:7px;text-align:center;border-right:1px solid #ebebeb;border-top:0.9px solid #ebebeb;padding-top:0.8px;line-height:6.4px;padding-top:1px"><div>¥59,400<br>(10%off)</div></div>
<div class="c" style="left:530px;top:128px;width:44px;height:20px;background:#fdeef0;color:#3a3a3a;font-size:6.4px;line-height:7px;text-align:center;border-right:1px solid #ebebeb;border-top:0.9px solid #ebebeb;padding-top:0.8px;line-height:6.4px;padding-top:1px"><div>¥157,500<br>(10%off)</div></div>
<div class="c" style="left:574px;top:128px;width:44px;height:20px;background:#f3f1fb;color:#3a3a3a;font-size:6.4px;line-height:7px;text-align:center;border-right:1px solid #ebebeb;border-top:0.9px solid #ebebeb;padding-top:0.8px;line-height:6.4px;padding-top:1px"><div>¥245,700<br>(10%off)</div></div>
<div class="c" style="left:618px;top:128px;width:44px;height:20px;background:#fef6ea;color:#3a3a3a;font-size:6.4px;line-height:7px;text-align:center;border-right:1px solid #ebebeb;border-top:0.9px solid #ebebeb;padding-top:0.8px;line-height:6.4px;padding-top:1px"><div>¥435,600<br>(10%off)</div></div>
<div class="c" style="left:662px;top:128px;width:44px;height:20px;background:#eef6ec;color:#3a3a3a;font-size:6.4px;line-height:7px;text-align:center;border-right:1px solid #ebebeb;border-top:0.9px solid #ebebeb;padding-top:0.8px;line-height:6.4px;padding-top:1px"><div>¥1,016,100<br>(10%off)</div></div>
<div class="c" style="left:706px;top:108px;width:44px;height:40px;background:#eef6ec;border-top:0.9px solid #ebebeb"></div>
<div class="a" style="left:728px;top:115.6px;transform:translate(-50%,-50%);text-align:center;color:#3a3a3a;font-size:5.8px;line-height:7px">仕入れ値に</div>
<div class="a" style="left:728px;top:122.6px;transform:translate(-50%,-50%);text-align:center;color:#3a3a3a;font-size:5.8px;line-height:7px">よって変動</div>
<div class="a" style="left:728px;top:135.5px;transform:translate(-50%,-50%);text-align:center;color:#3a3a3a;font-size:5.8px;line-height:7px">上記より</div>
<div class="a" style="left:728px;top:141.9px;transform:translate(-50%,-50%);text-align:center;color:#3a3a3a;font-size:6.4px;line-height:7px">10%off</div>
<div class="c" style="left:442px;top:148px;width:44px;height:19.5px;background:#ffffff;color:#3a3a3a;font-size:6.4px;line-height:7px;text-align:center;border-right:1px solid #ebebeb;border-top:0.9px solid #ebebeb;padding-top:0.8px;"><div>¥120,000</div></div>
<div class="c" style="left:486px;top:148px;width:44px;height:19.5px;background:#f1f6fb;color:#3a3a3a;font-size:6.4px;line-height:7px;text-align:center;border-right:1px solid #ebebeb;border-top:0.9px solid #ebebeb;padding-top:0.8px;"><div>¥115,500</div></div>
<div class="c" style="left:530px;top:148px;width:44px;height:19.5px;background:#fdeef0;color:#3a3a3a;font-size:6.4px;line-height:7px;text-align:center;border-right:1px solid #ebebeb;border-top:0.9px solid #ebebeb;padding-top:0.8px;"><div>¥114,583</div></div>
<div class="c" style="left:574px;top:148px;width:44px;height:19.5px;background:#f3f1fb;color:#3a3a3a;font-size:6.4px;line-height:7px;text-align:center;border-right:1px solid #ebebeb;border-top:0.9px solid #ebebeb;padding-top:0.8px;"><div>¥112,750</div></div>
<div class="c" style="left:618px;top:148px;width:44px;height:19.5px;background:#fef6ea;color:#3a3a3a;font-size:6.4px;line-height:7px;text-align:center;border-right:1px solid #ebebeb;border-top:0.9px solid #ebebeb;padding-top:0.8px;"><div>¥100,333</div></div>
<div class="c" style="left:662px;top:148px;width:44px;height:19.5px;background:#eef6ec;color:#3a3a3a;font-size:6.4px;line-height:7px;text-align:center;border-right:1px solid #ebebeb;border-top:0.9px solid #ebebeb;padding-top:0.8px;"><div>¥94,083</div></div>
<div class="c" style="left:706px;top:148px;width:44px;height:19.5px;background:#eef6ec;color:#3a3a3a;font-size:6.4px;line-height:7px;text-align:center;border-right:1px solid #ebebeb;border-top:0.9px solid #ebebeb;padding-top:0.8px;"></div>
<div class="c" style="left:442px;top:167.5px;width:44px;height:20.0px;background:#fbf36c;color:#3a3a3a;font-size:6.4px;line-height:7px;text-align:center;border-right:1px solid #f3ea66;border-top:0.9px solid #f3ea66;padding-top:0.8px;border-color:#f0e860;line-height:6.8px;padding-top:2px"><div>¥0</div></div>
<div class="c" style="left:486px;top:167.5px;width:44px;height:20.0px;background:#fbf36c;color:#3a3a3a;font-size:6.4px;line-height:7px;text-align:center;border-right:1px solid #f3ea66;border-top:0.9px solid #f3ea66;padding-top:0.8px;border-color:#f0e860;line-height:6.8px;padding-top:2px"><div>¥191,505～<br>¥250,000</div></div>
<div class="c" style="left:530px;top:167.5px;width:44px;height:20.0px;background:#fbf36c;color:#3a3a3a;font-size:6.4px;line-height:7px;text-align:center;border-right:1px solid #f3ea66;border-top:0.9px solid #f3ea66;padding-top:0.8px;border-color:#f0e860;line-height:6.8px;padding-top:2px"><div>¥376,626～<br>¥450,000</div></div>
<div class="c" style="left:574px;top:167.5px;width:44px;height:20.0px;background:#fbf36c;color:#3a3a3a;font-size:6.4px;line-height:7px;text-align:center;border-right:1px solid #f3ea66;border-top:0.9px solid #f3ea66;padding-top:0.8px;border-color:#f0e860;line-height:6.8px;padding-top:2px"><div>¥575,760～<br>¥650,000</div></div>
<div class="c" style="left:618px;top:167.5px;width:44px;height:20.0px;background:#fbf36c;color:#3a3a3a;font-size:6.4px;line-height:7px;text-align:center;border-right:1px solid #f3ea66;border-top:0.9px solid #f3ea66;padding-top:0.8px;border-color:#f0e860;line-height:6.8px;padding-top:2px"><div><span style="color:#d9461c">¥2,967,134～<br>¥3,500,000</span></div></div>
<div class="c" style="left:662px;top:167.5px;width:88px;height:20.0px;background:#fbf36c;color:#3a3a3a;font-size:6.4px;line-height:7px;text-align:center;border-right:1px solid #f3ea66;border-top:0.9px solid #f3ea66;padding-top:0.8px;border-color:#f0e860;padding-top:1px"><div><span style="color:#d9461c">¥6,010,143～¥8,000,000</span></div></div>
<div class="c" style="left:442px;top:187.5px;width:44px;height:19.5px;background:#fbf36c;color:#3a3a3a;font-size:6.4px;line-height:7px;text-align:center;border-right:1px solid #f3ea66;border-top:0.9px solid #f3ea66;padding-top:0.8px;border-color:#f0e860;line-height:6.8px;padding-top:2px"><div>¥0</div></div>
<div class="c" style="left:486px;top:187.5px;width:44px;height:19.5px;background:#fbf36c;color:#3a3a3a;font-size:6.4px;line-height:7px;text-align:center;border-right:1px solid #f3ea66;border-top:0.9px solid #f3ea66;padding-top:0.8px;border-color:#f0e860;line-height:6.8px;padding-top:2px"><div>¥0</div></div>
<div class="c" style="left:530px;top:187.5px;width:44px;height:19.5px;background:#fbf36c;color:#3a3a3a;font-size:6.4px;line-height:7px;text-align:center;border-right:1px solid #f3ea66;border-top:0.9px solid #f3ea66;padding-top:0.8px;border-color:#f0e860;line-height:6.8px;padding-top:2px"><div>¥528,540～<br>¥650,000</div></div>
<div class="c" style="left:574px;top:187.5px;width:44px;height:19.5px;background:#fbf36c;color:#3a3a3a;font-size:6.4px;line-height:7px;text-align:center;border-right:1px solid #f3ea66;border-top:0.9px solid #f3ea66;padding-top:0.8px;border-color:#f0e860;line-height:6.8px;padding-top:2px"><div>¥901,003～<br>¥1,000,000</div></div>
<div class="c" style="left:618px;top:187.5px;width:44px;height:19.5px;background:#fbf36c;color:#3a3a3a;font-size:6.4px;line-height:7px;text-align:center;border-right:1px solid #f3ea66;border-top:0.9px solid #f3ea66;padding-top:0.8px;border-color:#f0e860;line-height:6.8px;padding-top:2px"><div><span style="color:#d9461c">¥4,044,952～<br>¥5,000,000</span></div></div>
<div class="c" style="left:662px;top:187.5px;width:88px;height:19.5px;background:#fbf36c;color:#3a3a3a;font-size:6.4px;line-height:7px;text-align:center;border-right:1px solid #f3ea66;border-top:0.9px solid #f3ea66;padding-top:0.8px;border-color:#f0e860;padding-top:1px"><div><span style="color:#d9461c">¥11,125,214～¥14,000,000</span></div></div>
<div class="c" style="left:442px;top:207px;width:44px;height:20px;background:#ffffff;color:#3a3a3a;font-size:6.4px;line-height:7px;text-align:center;border-right:1px solid #ebebeb;border-top:0.9px solid #ebebeb;padding-top:0.8px;font-size:6px"><div>15日間</div></div>
<div class="c" style="left:486px;top:207px;width:264px;height:20px;background:#ffffff;color:#3a3a3a;font-size:6.4px;line-height:7px;text-align:center;border-right:1px solid #ebebeb;border-top:0.9px solid #ebebeb;padding-top:0.8px;font-size:5.8px;letter-spacing:0.38px"><div>原則、各お支払い期間を超える更新をご希望の場合はその期間も含めます</div></div>
<div class="c" style="left:442px;top:238px;width:44px;height:19.5px;background:#ffffff;color:#3a3a3a;font-size:6.4px;line-height:7px;text-align:center;border-right:1px solid #ebebeb;padding-top:0.8px;font-size:6.1px"><div>1ペア</div></div>
<div class="c" style="left:486px;top:238px;width:44px;height:19.5px;background:#ffffff;color:#3a3a3a;font-size:6.4px;line-height:7px;text-align:center;border-right:1px solid #ebebeb;padding-top:0.8px;font-size:6.1px"><div>1ペア</div></div>
<div class="c" style="left:530px;top:238px;width:44px;height:19.5px;background:#ffffff;color:#3a3a3a;font-size:6.4px;line-height:7px;text-align:center;border-right:1px solid #ebebeb;padding-top:0.8px;font-size:6.1px"><div>3ペア</div></div>
<div class="c" style="left:574px;top:238px;width:44px;height:19.5px;background:#ffffff;color:#3a3a3a;font-size:6.4px;line-height:7px;text-align:center;border-right:1px solid #ebebeb;padding-top:0.8px;font-size:6.1px"><div>4ペア</div></div>
<div class="c" style="left:618px;top:238px;width:44px;height:19.5px;background:#fbf36c;color:#3a3a3a;font-size:6.4px;line-height:7px;text-align:center;border-right:1px solid #f3ea66;padding-top:0.8px;font-size:6.1px"><div>6ペア</div></div>
<div class="c" style="left:662px;top:238px;width:88px;height:19.5px;background:#fbf36c;color:#3a3a3a;font-size:6.4px;line-height:7px;text-align:center;border-right:1px solid #f3ea66;padding-top:0.8px;font-size:6.1px"><div>8ペア</div></div>
<div class="c" style="left:442px;top:257.5px;width:220px;height:19.5px;background:#ffffff;color:#3a3a3a;font-size:6.4px;line-height:7px;text-align:center;border-right:1px solid #ebebeb;border-top:0.9px solid #ebebeb;padding-top:0.8px;font-size:5.8px"><div>1ツール</div></div>
<div class="c" style="left:662px;top:257.5px;width:44px;height:19.5px;background:#fbf36c;color:#3a3a3a;font-size:6.4px;line-height:7px;text-align:center;border-right:1px solid #f3ea66;border-top:0.9px solid #f3ea66;padding-top:0.8px;font-size:5.9px;line-height:6.7px;letter-spacing:0.1px"><div>2ツール<br>※希望で可能</div></div>
<div class="c" style="left:706px;top:257.5px;width:44px;height:19.5px;background:#fbf36c;color:#3a3a3a;font-size:6.4px;line-height:7px;text-align:center;border-right:1px solid #f3ea66;border-top:0.9px solid #f3ea66;padding-top:0.8px;font-size:5.9px;line-height:6.7px;letter-spacing:0.1px"><div>3ツール<br>※希望で可能</div></div>
<div class="c" style="left:442px;top:289px;width:44px;height:49px;background:#ffffff;color:#3a3a3a;font-size:6.4px;line-height:7px;text-align:center;border-right:1px solid #ebebeb;padding-top:0.8px;"></div>
<div class="a" style="left:449.5px;top:293.9px;font-size:5.7px;line-height:7px;color:#3a3a3a"><span style="display:inline-block;width:21.3px;letter-spacing:0px">Ｐ&#8202;Ｄ&#8202;Ｆ</span><span style="display:inline-block;width:6px;height:6px;border:0.75px solid #d24a5c;border-radius:50%;box-sizing:border-box;vertical-align:middle"></span></div>
<div class="a" style="left:449.5px;top:300.9px;font-size:5.7px;line-height:7px;color:#3a3a3a"><span style="display:inline-block;width:21.3px;letter-spacing:0px">電　話</span><span style="display:inline-block;width:6px;text-align:center;line-height:0"><svg width="4.2" height="4.2" viewBox="0 0 10 10" style="vertical-align:middle;display:inline-block"><path d="M1 1L9 9M9 1L1 9" stroke="#333" stroke-width="1.7857142857142856" fill="none"/></svg></span></div>
<div class="a" style="left:449.5px;top:308.4px;font-size:5.7px;line-height:7px;color:#3a3a3a"><span style="display:inline-block;width:21.3px;letter-spacing:0px">メール</span><span style="display:inline-block;width:6px;text-align:center;line-height:0"><svg width="4.2" height="4.2" viewBox="0 0 10 10" style="vertical-align:middle;display:inline-block"><path d="M1 1L9 9M9 1L1 9" stroke="#333" stroke-width="1.7857142857142856" fill="none"/></svg></span></div>
<div class="a" style="left:449.5px;top:316.1px;font-size:5.7px;line-height:7px;color:#3a3a3a"><span style="display:inline-block;width:21.3px;letter-spacing:0px">遠　隔</span><span style="display:inline-block;width:6px;text-align:center;line-height:0"><svg width="4.2" height="4.2" viewBox="0 0 10 10" style="vertical-align:middle;display:inline-block"><path d="M1 1L9 9M9 1L1 9" stroke="#333" stroke-width="1.7857142857142856" fill="none"/></svg></span></div>
<div class="c" style="left:486px;top:289px;width:44px;height:49px;background:#ffffff;color:#3a3a3a;font-size:6.4px;line-height:7px;text-align:center;border-right:1px solid #ebebeb;padding-top:0.8px;"></div>
<div class="a" style="left:493.5px;top:293.9px;font-size:5.7px;line-height:7px;color:#3a3a3a"><span style="display:inline-block;width:21.3px;letter-spacing:0px">Ｐ&#8202;Ｄ&#8202;Ｆ</span><span style="display:inline-block;width:6px;height:6px;border:0.75px solid #d24a5c;border-radius:50%;box-sizing:border-box;vertical-align:middle"></span></div>
<div class="a" style="left:493.5px;top:300.9px;font-size:5.7px;line-height:7px;color:#3a3a3a"><span style="display:inline-block;width:21.3px;letter-spacing:0px">電　話</span><span style="display:inline-block;width:6px;height:6px;border:0.75px solid #d24a5c;border-radius:50%;box-sizing:border-box;vertical-align:middle"></span></div>
<div class="a" style="left:493.5px;top:308.4px;font-size:5.7px;line-height:7px;color:#3a3a3a"><span style="display:inline-block;width:21.3px;letter-spacing:0px">メール</span><span style="display:inline-block;width:6px;height:6px;border:0.75px solid #d24a5c;border-radius:50%;box-sizing:border-box;vertical-align:middle"></span></div>
<div class="a" style="left:493.5px;top:316.1px;font-size:5.7px;line-height:7px;color:#3a3a3a"><span style="display:inline-block;width:21.3px;letter-spacing:0px">遠　隔</span><span style="display:inline-block;width:6px;text-align:center;line-height:0"><svg width="4.2" height="4.2" viewBox="0 0 10 10" style="vertical-align:middle;display:inline-block"><path d="M1 1L9 9M9 1L1 9" stroke="#333" stroke-width="1.7857142857142856" fill="none"/></svg></span></div>
<div class="c" style="left:530px;top:289px;width:44px;height:49px;background:#ffffff;color:#3a3a3a;font-size:6.4px;line-height:7px;text-align:center;border-right:1px solid #ebebeb;padding-top:0.8px;"></div>
<div class="a" style="left:537.5px;top:293.9px;font-size:5.7px;line-height:7px;color:#3a3a3a"><span style="display:inline-block;width:21.3px;letter-spacing:0px">Ｐ&#8202;Ｄ&#8202;Ｆ</span><span style="display:inline-block;width:6px;height:6px;border:0.75px solid #d24a5c;border-radius:50%;box-sizing:border-box;vertical-align:middle"></span></div>
<div class="a" style="left:537.5px;top:300.9px;font-size:5.7px;line-height:7px;color:#3a3a3a"><span style="display:inline-block;width:21.3px;letter-spacing:0px">電　話</span><span style="display:inline-block;width:6px;height:6px;border:0.75px solid #d24a5c;border-radius:50%;box-sizing:border-box;vertical-align:middle"></span></div>
<div class="a" style="left:537.5px;top:308.4px;font-size:5.7px;line-height:7px;color:#3a3a3a"><span style="display:inline-block;width:21.3px;letter-spacing:0px">メール</span><span style="display:inline-block;width:6px;height:6px;border:0.75px solid #d24a5c;border-radius:50%;box-sizing:border-box;vertical-align:middle"></span></div>
<div class="a" style="left:537.5px;top:316.1px;font-size:5.7px;line-height:7px;color:#3a3a3a"><span style="display:inline-block;width:21.3px;letter-spacing:0px">遠　隔</span><span style="display:inline-block;width:6px;text-align:center;line-height:0"><svg width="4.2" height="4.2" viewBox="0 0 10 10" style="vertical-align:middle;display:inline-block"><path d="M1 1L9 9M9 1L1 9" stroke="#333" stroke-width="1.7857142857142856" fill="none"/></svg></span></div>
<div class="c" style="left:574px;top:289px;width:44px;height:49px;background:#ffffff;color:#3a3a3a;font-size:6.4px;line-height:7px;text-align:center;border-right:1px solid #ebebeb;padding-top:0.8px;"></div>
<div class="a" style="left:581.5px;top:293.9px;font-size:5.7px;line-height:7px;color:#3a3a3a"><span style="display:inline-block;width:21.3px;letter-spacing:0px">Ｐ&#8202;Ｄ&#8202;Ｆ</span><span style="display:inline-block;width:6px;height:6px;border:0.75px solid #d24a5c;border-radius:50%;box-sizing:border-box;vertical-align:middle"></span></div>
<div class="a" style="left:581.5px;top:300.9px;font-size:5.7px;line-height:7px;color:#3a3a3a"><span style="display:inline-block;width:21.3px;letter-spacing:0px">電　話</span><span style="display:inline-block;width:6px;height:6px;border:0.75px solid #d24a5c;border-radius:50%;box-sizing:border-box;vertical-align:middle"></span></div>
<div class="a" style="left:581.5px;top:308.4px;font-size:5.7px;line-height:7px;color:#3a3a3a"><span style="display:inline-block;width:21.3px;letter-spacing:0px">メール</span><span style="display:inline-block;width:6px;height:6px;border:0.75px solid #d24a5c;border-radius:50%;box-sizing:border-box;vertical-align:middle"></span></div>
<div class="a" style="left:581.5px;top:316.1px;font-size:5.7px;line-height:7px;color:#3a3a3a"><span style="display:inline-block;width:21.3px;letter-spacing:0px">遠　隔</span><span style="display:inline-block;width:6px;text-align:center;line-height:0"><svg width="4.2" height="4.2" viewBox="0 0 10 10" style="vertical-align:middle;display:inline-block"><path d="M1 1L9 9M9 1L1 9" stroke="#333" stroke-width="1.7857142857142856" fill="none"/></svg></span></div>
<div class="c" style="left:618px;top:289px;width:44px;height:49px;background:#ffffff;color:#3a3a3a;font-size:6.4px;line-height:7px;text-align:center;border-right:1px solid #ebebeb;padding-top:0.8px;"></div>
<div class="a" style="left:625.5px;top:293.9px;font-size:5.7px;line-height:7px;color:#3a3a3a"><span style="display:inline-block;width:21.3px;letter-spacing:0px">Ｐ&#8202;Ｄ&#8202;Ｆ</span><span style="display:inline-block;width:6px;height:6px;border:0.75px solid #d24a5c;border-radius:50%;box-sizing:border-box;vertical-align:middle"></span></div>
<div class="a" style="left:625.5px;top:300.9px;font-size:5.7px;line-height:7px;color:#3a3a3a"><span style="display:inline-block;width:21.3px;letter-spacing:0px">電　話</span><span style="display:inline-block;width:6px;height:6px;border:0.75px solid #d24a5c;border-radius:50%;box-sizing:border-box;vertical-align:middle"></span></div>
<div class="a" style="left:625.5px;top:308.4px;font-size:5.7px;line-height:7px;color:#3a3a3a"><span style="display:inline-block;width:21.3px;letter-spacing:0px">メール</span><span style="display:inline-block;width:6px;height:6px;border:0.75px solid #d24a5c;border-radius:50%;box-sizing:border-box;vertical-align:middle"></span></div>
<div class="a" style="left:625.5px;top:316.1px;font-size:5.7px;line-height:7px;color:#3a3a3a"><span style="display:inline-block;width:21.3px;letter-spacing:0px">遠　隔</span><span style="display:inline-block;width:6px;text-align:center;line-height:0"><svg width="4.2" height="4.2" viewBox="0 0 10 10" style="vertical-align:middle;display:inline-block"><path d="M1 1L9 9M9 1L1 9" stroke="#333" stroke-width="1.7857142857142856" fill="none"/></svg></span></div>
<div class="c" style="left:662px;top:289px;width:44px;height:49px;background:#ffffff;color:#3a3a3a;font-size:6.4px;line-height:7px;text-align:center;border-right:1px solid #ebebeb;padding-top:0.8px;"></div>
<div class="a" style="left:669.5px;top:293.9px;font-size:5.7px;line-height:7px;color:#3a3a3a"><span style="display:inline-block;width:21.3px;letter-spacing:0px">Ｐ&#8202;Ｄ&#8202;Ｆ</span><span style="display:inline-block;width:6px;height:6px;border:0.75px solid #d24a5c;border-radius:50%;box-sizing:border-box;vertical-align:middle"></span></div>
<div class="a" style="left:669.5px;top:300.9px;font-size:5.7px;line-height:7px;color:#3a3a3a"><span style="display:inline-block;width:21.3px;letter-spacing:0px">電　話</span><span style="display:inline-block;width:6px;height:6px;border:0.75px solid #d24a5c;border-radius:50%;box-sizing:border-box;vertical-align:middle"></span></div>
<div class="a" style="left:669.5px;top:308.4px;font-size:5.7px;line-height:7px;color:#3a3a3a"><span style="display:inline-block;width:21.3px;letter-spacing:0px">メール</span><span style="display:inline-block;width:6px;height:6px;border:0.75px solid #d24a5c;border-radius:50%;box-sizing:border-box;vertical-align:middle"></span></div>
<div class="a" style="left:669.5px;top:316.1px;font-size:5.7px;line-height:7px;color:#3a3a3a"><span style="display:inline-block;width:21.3px;letter-spacing:0px">遠　隔</span><span style="display:inline-block;width:6px;height:6px;border:0.75px solid #d24a5c;border-radius:50%;box-sizing:border-box;vertical-align:middle"></span></div>
<div class="c" style="left:706px;top:289px;width:44px;height:49px;background:#ffffff;color:#3a3a3a;font-size:6.4px;line-height:7px;text-align:center;border-right:1px solid #ebebeb;padding-top:0.8px;"></div>
<div class="a" style="left:713.5px;top:293.9px;font-size:5.7px;line-height:7px;color:#3a3a3a"><span style="display:inline-block;width:21.3px;letter-spacing:0px">Ｐ&#8202;Ｄ&#8202;Ｆ</span><span style="display:inline-block;width:6px;height:6px;border:0.75px solid #d24a5c;border-radius:50%;box-sizing:border-box;vertical-align:middle"></span></div>
<div class="a" style="left:713.5px;top:300.9px;font-size:5.7px;line-height:7px;color:#3a3a3a"><span style="display:inline-block;width:21.3px;letter-spacing:0px">電　話</span><span style="display:inline-block;width:6px;height:6px;border:0.75px solid #d24a5c;border-radius:50%;box-sizing:border-box;vertical-align:middle"></span></div>
<div class="a" style="left:713.5px;top:308.4px;font-size:5.7px;line-height:7px;color:#3a3a3a"><span style="display:inline-block;width:21.3px;letter-spacing:0px">メール</span><span style="display:inline-block;width:6px;height:6px;border:0.75px solid #d24a5c;border-radius:50%;box-sizing:border-box;vertical-align:middle"></span></div>
<div class="a" style="left:713.5px;top:316.1px;font-size:5.7px;line-height:7px;color:#3a3a3a"><span style="display:inline-block;width:21.3px;letter-spacing:0px">遠　隔</span><span style="display:inline-block;width:6px;height:6px;border:0.75px solid #d24a5c;border-radius:50%;box-sizing:border-box;vertical-align:middle"></span></div>
<div class="a" style="left:713.5px;top:325.2px;font-size:4.4px;line-height:4.3px;color:#e0508a;letter-spacing:-0.35px">コミット<br>サポート</div>
<div class="a" style="left:734.8px;top:325.3px;font-size:5.7px;line-height:7px"><span style="display:inline-block;width:6px;height:6px;border:0.75px solid #d24a5c;border-radius:50%;box-sizing:border-box;vertical-align:middle"></span></div>
<div class="c" style="left:442px;top:338px;width:44px;height:18px;background:#ffffff;color:#3a3a3a;font-size:6.4px;line-height:7px;text-align:center;border-right:1px solid #ebebeb;border-top:0.9px solid #ebebeb;padding-top:0.8px;"><div><span style="display:inline-block;width:6px;height:6px;border:0.75px solid #d24a5c;border-radius:50%;box-sizing:border-box;vertical-align:middle"></span></div></div>
<div class="c" style="left:486px;top:338px;width:44px;height:18px;background:#ffffff;color:#3a3a3a;font-size:6.4px;line-height:7px;text-align:center;border-right:1px solid #ebebeb;border-top:0.9px solid #ebebeb;padding-top:0.8px;"><div><span style="display:inline-block;width:6px;height:6px;border:0.75px solid #d24a5c;border-radius:50%;box-sizing:border-box;vertical-align:middle"></span></div></div>
<div class="c" style="left:530px;top:338px;width:44px;height:18px;background:#ffffff;color:#3a3a3a;font-size:6.4px;line-height:7px;text-align:center;border-right:1px solid #ebebeb;border-top:0.9px solid #ebebeb;padding-top:0.8px;"><div><span style="display:inline-block;width:6px;height:6px;border:0.75px solid #d24a5c;border-radius:50%;box-sizing:border-box;vertical-align:middle"></span></div></div>
<div class="c" style="left:574px;top:338px;width:44px;height:18px;background:#ffffff;color:#3a3a3a;font-size:6.4px;line-height:7px;text-align:center;border-right:1px solid #ebebeb;border-top:0.9px solid #ebebeb;padding-top:0.8px;"><div><span style="display:inline-block;width:6px;height:6px;border:0.75px solid #d24a5c;border-radius:50%;box-sizing:border-box;vertical-align:middle"></span></div></div>
<div class="c" style="left:618px;top:338px;width:44px;height:18px;background:#ffffff;color:#3a3a3a;font-size:6.4px;line-height:7px;text-align:center;border-right:1px solid #ebebeb;border-top:0.9px solid #ebebeb;padding-top:0.8px;"><div><span style="display:inline-block;width:6px;height:6px;border:0.75px solid #d24a5c;border-radius:50%;box-sizing:border-box;vertical-align:middle"></span></div></div>
<div class="c" style="left:662px;top:338px;width:44px;height:18px;background:#ffffff;color:#3a3a3a;font-size:6.4px;line-height:7px;text-align:center;border-right:1px solid #ebebeb;border-top:0.9px solid #ebebeb;padding-top:0.8px;"><div><span style="display:inline-block;width:6px;height:6px;border:0.75px solid #d24a5c;border-radius:50%;box-sizing:border-box;vertical-align:middle"></span></div></div>
<div class="c" style="left:706px;top:338px;width:44px;height:18px;background:#ffffff;color:#3a3a3a;font-size:6.4px;line-height:7px;text-align:center;border-right:1px solid #ebebeb;border-top:0.9px solid #ebebeb;padding-top:0.8px;"><div><span style="display:inline-block;width:6px;height:6px;border:0.75px solid #d24a5c;border-radius:50%;box-sizing:border-box;vertical-align:middle"></span></div></div>
<div class="c" style="left:442px;top:356px;width:44px;height:18.5px;background:#ffffff;color:#3a3a3a;font-size:6.4px;line-height:7px;text-align:center;border-right:1px solid #ebebeb;border-top:0.9px solid #ebebeb;padding-top:0.8px;font-size:5.6px"><div>一部保証<span style="display:inline-block;width:6px;height:6px;border:0.75px solid #d24a5c;border-radius:50%;box-sizing:border-box;vertical-align:middle"></span></div></div>
<div class="c" style="left:486px;top:356px;width:264px;height:18.5px;background:#ffffff;color:#3a3a3a;font-size:6.4px;line-height:7px;text-align:center;border-right:1px solid #ebebeb;border-top:0.9px solid #ebebeb;padding-top:0.8px;font-size:5.6px"><div>フル保証<span style="display:inline-block;width:6px;height:6px;border:0.75px solid #d24a5c;border-radius:50%;box-sizing:border-box;vertical-align:middle"></span></div></div>
<div class="c" style="left:442px;top:386px;width:44px;height:19px;background:#ffffff;color:#3a3a3a;font-size:6.4px;line-height:7px;text-align:center;border-right:1px solid #ebebeb;padding-top:0.8px;"><div><svg width="5" height="5" viewBox="0 0 10 10" style="vertical-align:middle;display:inline-block"><path d="M1 1L9 9M9 1L1 9" stroke="#222" stroke-width="1.6" fill="none"/></svg></div></div>
<div class="c" style="left:486px;top:386px;width:264px;height:19px;background:#ffffff;color:#3a3a3a;font-size:6.4px;line-height:7px;text-align:center;border-right:1px solid #ebebeb;padding-top:0.8px;"></div>
<div class="a" style="left:531.2px;top:392.8px;font-size:5.6px;line-height:7px"><span style="display:inline-block;width:6px;height:6px;border:0.75px solid #d24a5c;border-radius:50%;box-sizing:border-box;vertical-align:middle"></span></div>
<div class="a" style="left:541.6px;top:392.5px;font-size:5.3px;color:#3a3a3a;letter-spacing:0.6px">初回無料</div>
<div class="a" style="left:573.6px;top:392.5px;font-size:5.3px;color:#3a3a3a;letter-spacing:0.45px">※初回支払い期間内はプラン料金に含まれています</div>
<div class="c" style="left:442px;top:405px;width:44px;height:19.5px;background:#ffffff;color:#3a3a3a;font-size:6.4px;line-height:7px;text-align:center;border-right:1px solid #ebebeb;border-top:0.9px solid #ebebeb;padding-top:0.8px;font-size:6px;letter-spacing:-0.1px"><div>月額¥30,000</div></div>
<div class="c" style="left:486px;top:405px;width:132px;height:19.5px;background:#ffffff;color:#3a3a3a;font-size:6.4px;line-height:7px;text-align:center;border-right:1px solid #ebebeb;border-top:0.9px solid #ebebeb;padding-top:0.8px;font-size:6px;letter-spacing:-0.1px"><div>月額¥15,000</div></div>
<div class="c" style="left:618px;top:405px;width:88px;height:19.5px;background:#ffffff;color:#3a3a3a;font-size:6.4px;line-height:7px;text-align:center;border-right:1px solid #ebebeb;border-top:0.9px solid #ebebeb;padding-top:0.8px;font-size:6px;letter-spacing:-0.1px"><div>月額¥9,000</div></div>
<div class="c" style="left:706px;top:405px;width:44px;height:19.5px;background:#ffffff;color:#3a3a3a;font-size:6.4px;line-height:7px;text-align:center;border-right:1px solid #ebebeb;border-top:0.9px solid #ebebeb;padding-top:0.8px;font-size:6px;letter-spacing:-0.1px"><div>月額¥3,000</div></div>
<svg class="a" style="left:0;top:0;overflow:visible" width="760" height="428" viewBox="0 0 760 428">
<path d="M510.0 149.6 C500.0 150 487.7 140 487.7 128.1 C487.7 115.2 496.7 107.2 508.0 107.2 C519.3 107.2 528.3 115.2 528.3 128.1 C528.3 142 514.0 147 505.0 153.5" fill="none" stroke="#d5262e" stroke-width="2.05" stroke-linecap="round"/></svg>
<svg class="a" style="left:0;top:0;overflow:visible" width="760" height="428" viewBox="0 0 760 428">
<path d="M554.0 149.6 C544.0 150 531.7 140 531.7 128.1 C531.7 115.2 540.7 107.2 552.0 107.2 C563.3 107.2 572.3 115.2 572.3 128.1 C572.3 142 558.0 147 549.0 153.5" fill="none" stroke="#d5262e" stroke-width="2.05" stroke-linecap="round"/></svg>
<svg class="a" style="left:0;top:0;overflow:visible" width="760" height="428" viewBox="0 0 760 428">
<path d="M598.0 149.6 C588.0 150 575.7 140 575.7 128.1 C575.7 115.2 584.7 107.2 596.0 107.2 C607.3 107.2 616.3 115.2 616.3 128.1 C616.3 142 602.0 147 593.0 153.5" fill="none" stroke="#d5262e" stroke-width="2.05" stroke-linecap="round"/></svg>
<svg class="a" style="left:0;top:0;overflow:visible" width="760" height="428" viewBox="0 0 760 428">
<path d="M642.0 149.6 C632.0 150 619.7 140 619.7 128.1 C619.7 115.2 628.7 107.2 640.0 107.2 C651.3 107.2 660.3 115.2 660.3 128.1 C660.3 142 646.0 147 637.0 153.5" fill="none" stroke="#d5262e" stroke-width="2.05" stroke-linecap="round"/></svg>
<svg class="a" style="left:0;top:0;overflow:visible" width="760" height="428" viewBox="0 0 760 428">
<path d="M686.0 149.6 C676.0 150 663.7 140 663.7 128.1 C663.7 115.2 672.7 107.2 684.0 107.2 C695.3 107.2 704.3 115.2 704.3 128.1 C704.3 142 690.0 147 681.0 153.5" fill="none" stroke="#d5262e" stroke-width="2.05" stroke-linecap="round"/></svg>
</body></html>
